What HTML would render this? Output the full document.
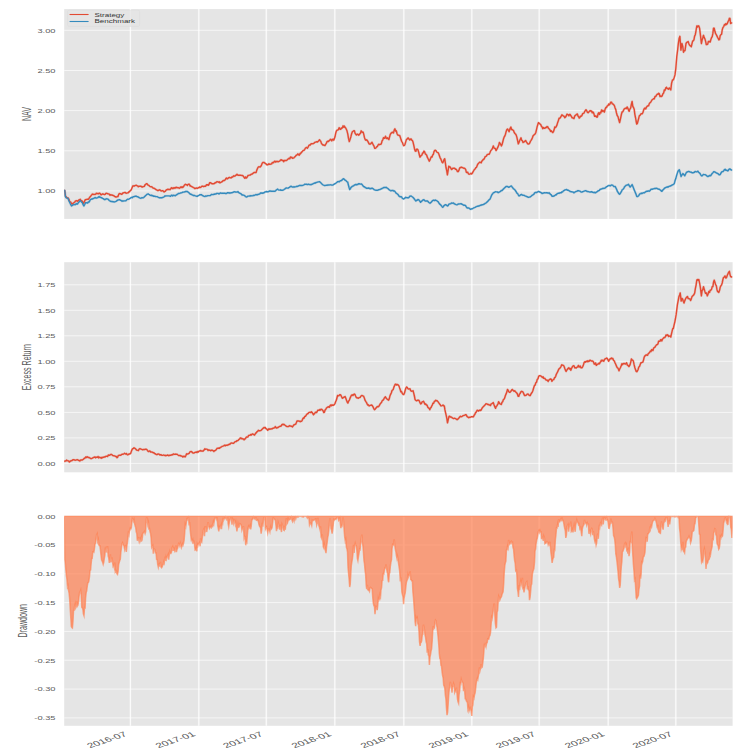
<!DOCTYPE html><html><head><meta charset="utf-8"><title>chart</title>
<style>html,body{margin:0;padding:0;background:#fff;overflow:hidden}svg{display:block}text{font-family:"Liberation Sans",sans-serif;fill:#5c5c5c}</style></head><body>
<svg width="741" height="756" viewBox="0 0 741 756">
<rect width="741" height="756" fill="#fff"/>
<g>
<rect x="-10" y="-10" width="761" height="776" fill="#fff"/>
<rect x="64.2" y="9.1" width="668.4" height="209.8" fill="#E5E5E5"/>
<line x1="130.4" y1="9.1" x2="130.4" y2="218.9" stroke="#fff" stroke-width="2.3" stroke-opacity="0.18"/>
<line x1="130.4" y1="9.1" x2="130.4" y2="218.9" stroke="#fff" stroke-width="1.15" stroke-opacity="0.82"/>
<line x1="198.8" y1="9.1" x2="198.8" y2="218.9" stroke="#fff" stroke-width="2.3" stroke-opacity="0.18"/>
<line x1="198.8" y1="9.1" x2="198.8" y2="218.9" stroke="#fff" stroke-width="1.15" stroke-opacity="0.82"/>
<line x1="266.3" y1="9.1" x2="266.3" y2="218.9" stroke="#fff" stroke-width="2.3" stroke-opacity="0.18"/>
<line x1="266.3" y1="9.1" x2="266.3" y2="218.9" stroke="#fff" stroke-width="1.15" stroke-opacity="0.82"/>
<line x1="334.8" y1="9.1" x2="334.8" y2="218.9" stroke="#fff" stroke-width="2.3" stroke-opacity="0.18"/>
<line x1="334.8" y1="9.1" x2="334.8" y2="218.9" stroke="#fff" stroke-width="1.15" stroke-opacity="0.82"/>
<line x1="403.8" y1="9.1" x2="403.8" y2="218.9" stroke="#fff" stroke-width="2.3" stroke-opacity="0.18"/>
<line x1="403.8" y1="9.1" x2="403.8" y2="218.9" stroke="#fff" stroke-width="1.15" stroke-opacity="0.82"/>
<line x1="471.8" y1="9.1" x2="471.8" y2="218.9" stroke="#fff" stroke-width="2.3" stroke-opacity="0.18"/>
<line x1="471.8" y1="9.1" x2="471.8" y2="218.9" stroke="#fff" stroke-width="1.15" stroke-opacity="0.82"/>
<line x1="539.2" y1="9.1" x2="539.2" y2="218.9" stroke="#fff" stroke-width="2.3" stroke-opacity="0.18"/>
<line x1="539.2" y1="9.1" x2="539.2" y2="218.9" stroke="#fff" stroke-width="1.15" stroke-opacity="0.82"/>
<line x1="608.2" y1="9.1" x2="608.2" y2="218.9" stroke="#fff" stroke-width="2.3" stroke-opacity="0.18"/>
<line x1="608.2" y1="9.1" x2="608.2" y2="218.9" stroke="#fff" stroke-width="1.15" stroke-opacity="0.82"/>
<line x1="675.8" y1="9.1" x2="675.8" y2="218.9" stroke="#fff" stroke-width="2.3" stroke-opacity="0.18"/>
<line x1="675.8" y1="9.1" x2="675.8" y2="218.9" stroke="#fff" stroke-width="1.15" stroke-opacity="0.82"/>
<line x1="64.2" y1="30.3" x2="732.6" y2="30.3" stroke="#fff" stroke-width="0.9" stroke-opacity="0.72"/>
<text transform="translate(55.5,32.6) scale(1.5,1)" text-anchor="end" font-size="6.2">3.00</text>
<line x1="64.2" y1="70.5" x2="732.6" y2="70.5" stroke="#fff" stroke-width="0.9" stroke-opacity="0.72"/>
<text transform="translate(55.5,72.8) scale(1.5,1)" text-anchor="end" font-size="6.2">2.50</text>
<line x1="64.2" y1="110.6" x2="732.6" y2="110.6" stroke="#fff" stroke-width="0.9" stroke-opacity="0.72"/>
<text transform="translate(55.5,112.9) scale(1.5,1)" text-anchor="end" font-size="6.2">2.00</text>
<line x1="64.2" y1="150.8" x2="732.6" y2="150.8" stroke="#fff" stroke-width="0.9" stroke-opacity="0.72"/>
<text transform="translate(55.5,153.1) scale(1.5,1)" text-anchor="end" font-size="6.2">1.50</text>
<line x1="64.2" y1="190.9" x2="732.6" y2="190.9" stroke="#fff" stroke-width="0.9" stroke-opacity="0.72"/>
<text transform="translate(55.5,193.2) scale(1.5,1)" text-anchor="end" font-size="6.2">1.00</text>
<text transform="translate(30.6,114.0) rotate(-90) scale(1,1.75)" text-anchor="middle" font-size="7.1">NAV</text>
<rect x="64.2" y="262.2" width="668.4" height="210.1" fill="#E5E5E5"/>
<line x1="130.4" y1="262.2" x2="130.4" y2="472.3" stroke="#fff" stroke-width="2.3" stroke-opacity="0.18"/>
<line x1="130.4" y1="262.2" x2="130.4" y2="472.3" stroke="#fff" stroke-width="1.15" stroke-opacity="0.82"/>
<line x1="198.8" y1="262.2" x2="198.8" y2="472.3" stroke="#fff" stroke-width="2.3" stroke-opacity="0.18"/>
<line x1="198.8" y1="262.2" x2="198.8" y2="472.3" stroke="#fff" stroke-width="1.15" stroke-opacity="0.82"/>
<line x1="266.3" y1="262.2" x2="266.3" y2="472.3" stroke="#fff" stroke-width="2.3" stroke-opacity="0.18"/>
<line x1="266.3" y1="262.2" x2="266.3" y2="472.3" stroke="#fff" stroke-width="1.15" stroke-opacity="0.82"/>
<line x1="334.8" y1="262.2" x2="334.8" y2="472.3" stroke="#fff" stroke-width="2.3" stroke-opacity="0.18"/>
<line x1="334.8" y1="262.2" x2="334.8" y2="472.3" stroke="#fff" stroke-width="1.15" stroke-opacity="0.82"/>
<line x1="403.8" y1="262.2" x2="403.8" y2="472.3" stroke="#fff" stroke-width="2.3" stroke-opacity="0.18"/>
<line x1="403.8" y1="262.2" x2="403.8" y2="472.3" stroke="#fff" stroke-width="1.15" stroke-opacity="0.82"/>
<line x1="471.8" y1="262.2" x2="471.8" y2="472.3" stroke="#fff" stroke-width="2.3" stroke-opacity="0.18"/>
<line x1="471.8" y1="262.2" x2="471.8" y2="472.3" stroke="#fff" stroke-width="1.15" stroke-opacity="0.82"/>
<line x1="539.2" y1="262.2" x2="539.2" y2="472.3" stroke="#fff" stroke-width="2.3" stroke-opacity="0.18"/>
<line x1="539.2" y1="262.2" x2="539.2" y2="472.3" stroke="#fff" stroke-width="1.15" stroke-opacity="0.82"/>
<line x1="608.2" y1="262.2" x2="608.2" y2="472.3" stroke="#fff" stroke-width="2.3" stroke-opacity="0.18"/>
<line x1="608.2" y1="262.2" x2="608.2" y2="472.3" stroke="#fff" stroke-width="1.15" stroke-opacity="0.82"/>
<line x1="675.8" y1="262.2" x2="675.8" y2="472.3" stroke="#fff" stroke-width="2.3" stroke-opacity="0.18"/>
<line x1="675.8" y1="262.2" x2="675.8" y2="472.3" stroke="#fff" stroke-width="1.15" stroke-opacity="0.82"/>
<line x1="64.2" y1="463.4" x2="732.6" y2="463.4" stroke="#fff" stroke-width="0.9" stroke-opacity="0.72"/>
<text transform="translate(55.5,465.7) scale(1.5,1)" text-anchor="end" font-size="6.2">0.00</text>
<line x1="64.2" y1="437.9" x2="732.6" y2="437.9" stroke="#fff" stroke-width="0.9" stroke-opacity="0.72"/>
<text transform="translate(55.5,440.2) scale(1.5,1)" text-anchor="end" font-size="6.2">0.25</text>
<line x1="64.2" y1="412.4" x2="732.6" y2="412.4" stroke="#fff" stroke-width="0.9" stroke-opacity="0.72"/>
<text transform="translate(55.5,414.7) scale(1.5,1)" text-anchor="end" font-size="6.2">0.50</text>
<line x1="64.2" y1="386.8" x2="732.6" y2="386.8" stroke="#fff" stroke-width="0.9" stroke-opacity="0.72"/>
<text transform="translate(55.5,389.1) scale(1.5,1)" text-anchor="end" font-size="6.2">0.75</text>
<line x1="64.2" y1="361.3" x2="732.6" y2="361.3" stroke="#fff" stroke-width="0.9" stroke-opacity="0.72"/>
<text transform="translate(55.5,363.6) scale(1.5,1)" text-anchor="end" font-size="6.2">1.00</text>
<line x1="64.2" y1="335.8" x2="732.6" y2="335.8" stroke="#fff" stroke-width="0.9" stroke-opacity="0.72"/>
<text transform="translate(55.5,338.1) scale(1.5,1)" text-anchor="end" font-size="6.2">1.25</text>
<line x1="64.2" y1="310.3" x2="732.6" y2="310.3" stroke="#fff" stroke-width="0.9" stroke-opacity="0.72"/>
<text transform="translate(55.5,312.6) scale(1.5,1)" text-anchor="end" font-size="6.2">1.50</text>
<line x1="64.2" y1="284.8" x2="732.6" y2="284.8" stroke="#fff" stroke-width="0.9" stroke-opacity="0.72"/>
<text transform="translate(55.5,287.1) scale(1.5,1)" text-anchor="end" font-size="6.2">1.75</text>
<text transform="translate(31.0,367.2) rotate(-90) scale(1,1.75)" text-anchor="middle" font-size="7.1">Excess Return</text>
<rect x="64.2" y="515.6" width="668.4" height="210.2" fill="#E5E5E5"/>
<line x1="130.4" y1="515.6" x2="130.4" y2="725.8" stroke="#fff" stroke-width="2.3" stroke-opacity="0.18"/>
<line x1="130.4" y1="515.6" x2="130.4" y2="725.8" stroke="#fff" stroke-width="1.15" stroke-opacity="0.82"/>
<line x1="198.8" y1="515.6" x2="198.8" y2="725.8" stroke="#fff" stroke-width="2.3" stroke-opacity="0.18"/>
<line x1="198.8" y1="515.6" x2="198.8" y2="725.8" stroke="#fff" stroke-width="1.15" stroke-opacity="0.82"/>
<line x1="266.3" y1="515.6" x2="266.3" y2="725.8" stroke="#fff" stroke-width="2.3" stroke-opacity="0.18"/>
<line x1="266.3" y1="515.6" x2="266.3" y2="725.8" stroke="#fff" stroke-width="1.15" stroke-opacity="0.82"/>
<line x1="334.8" y1="515.6" x2="334.8" y2="725.8" stroke="#fff" stroke-width="2.3" stroke-opacity="0.18"/>
<line x1="334.8" y1="515.6" x2="334.8" y2="725.8" stroke="#fff" stroke-width="1.15" stroke-opacity="0.82"/>
<line x1="403.8" y1="515.6" x2="403.8" y2="725.8" stroke="#fff" stroke-width="2.3" stroke-opacity="0.18"/>
<line x1="403.8" y1="515.6" x2="403.8" y2="725.8" stroke="#fff" stroke-width="1.15" stroke-opacity="0.82"/>
<line x1="471.8" y1="515.6" x2="471.8" y2="725.8" stroke="#fff" stroke-width="2.3" stroke-opacity="0.18"/>
<line x1="471.8" y1="515.6" x2="471.8" y2="725.8" stroke="#fff" stroke-width="1.15" stroke-opacity="0.82"/>
<line x1="539.2" y1="515.6" x2="539.2" y2="725.8" stroke="#fff" stroke-width="2.3" stroke-opacity="0.18"/>
<line x1="539.2" y1="515.6" x2="539.2" y2="725.8" stroke="#fff" stroke-width="1.15" stroke-opacity="0.82"/>
<line x1="608.2" y1="515.6" x2="608.2" y2="725.8" stroke="#fff" stroke-width="2.3" stroke-opacity="0.18"/>
<line x1="608.2" y1="515.6" x2="608.2" y2="725.8" stroke="#fff" stroke-width="1.15" stroke-opacity="0.82"/>
<line x1="675.8" y1="515.6" x2="675.8" y2="725.8" stroke="#fff" stroke-width="2.3" stroke-opacity="0.18"/>
<line x1="675.8" y1="515.6" x2="675.8" y2="725.8" stroke="#fff" stroke-width="1.15" stroke-opacity="0.82"/>
<line x1="64.2" y1="516.2" x2="732.6" y2="516.2" stroke="#fff" stroke-width="0.9" stroke-opacity="0.72"/>
<text transform="translate(55.5,518.5) scale(1.5,1)" text-anchor="end" font-size="6.2">0.00</text>
<line x1="64.2" y1="545.0" x2="732.6" y2="545.0" stroke="#fff" stroke-width="0.9" stroke-opacity="0.72"/>
<text transform="translate(55.5,547.3) scale(1.5,1)" text-anchor="end" font-size="6.2">-0.05</text>
<line x1="64.2" y1="573.8" x2="732.6" y2="573.8" stroke="#fff" stroke-width="0.9" stroke-opacity="0.72"/>
<text transform="translate(55.5,576.1) scale(1.5,1)" text-anchor="end" font-size="6.2">-0.10</text>
<line x1="64.2" y1="602.6" x2="732.6" y2="602.6" stroke="#fff" stroke-width="0.9" stroke-opacity="0.72"/>
<text transform="translate(55.5,604.9) scale(1.5,1)" text-anchor="end" font-size="6.2">-0.15</text>
<line x1="64.2" y1="631.4" x2="732.6" y2="631.4" stroke="#fff" stroke-width="0.9" stroke-opacity="0.72"/>
<text transform="translate(55.5,633.7) scale(1.5,1)" text-anchor="end" font-size="6.2">-0.20</text>
<line x1="64.2" y1="660.2" x2="732.6" y2="660.2" stroke="#fff" stroke-width="0.9" stroke-opacity="0.72"/>
<text transform="translate(55.5,662.5) scale(1.5,1)" text-anchor="end" font-size="6.2">-0.25</text>
<line x1="64.2" y1="689.1" x2="732.6" y2="689.1" stroke="#fff" stroke-width="0.9" stroke-opacity="0.72"/>
<text transform="translate(55.5,691.4) scale(1.5,1)" text-anchor="end" font-size="6.2">-0.30</text>
<line x1="64.2" y1="717.9" x2="732.6" y2="717.9" stroke="#fff" stroke-width="0.9" stroke-opacity="0.72"/>
<text transform="translate(55.5,720.2) scale(1.5,1)" text-anchor="end" font-size="6.2">-0.35</text>
<text transform="translate(27.3,620.7) rotate(-90) scale(1,1.75)" text-anchor="middle" font-size="7.1">Drawdown</text>
<clipPath id="c0"><rect x="64.2" y="9.1" width="668.4" height="209.8"/></clipPath>
<clipPath id="c1"><rect x="64.2" y="262.2" width="668.4" height="210.1"/></clipPath>
<clipPath id="c2"><rect x="64.2" y="515.6" width="668.4" height="210.2"/></clipPath>
<g clip-path="url(#c0)" fill="none" stroke-linejoin="round" stroke-linecap="round">
<polyline points="64.3,190.5 64.7,190.5 65.4,195.9 66.1,196.8 66.8,197.7 67.4,198.0 68.1,197.9 68.8,199.1 69.4,200.8 70.1,202.0 70.8,202.2 71.4,203.1 72.1,204.0 72.8,203.8 73.4,202.9 74.1,202.5 74.8,202.0 75.5,201.0 76.2,200.9 76.8,200.6 77.5,201.3 78.2,200.7 78.8,200.0 79.5,199.9 80.2,199.3 80.9,200.3 81.6,200.6 82.3,201.3 82.9,202.4 83.6,203.3 84.3,201.9 85.0,199.9 85.7,199.8 86.3,199.4 87.0,199.4 87.6,199.2 88.3,199.3 89.0,198.3 89.7,197.3 90.4,196.6 91.1,195.6 91.7,194.9 92.3,194.1 93.0,194.5 93.7,194.3 94.4,194.4 95.0,194.5 95.7,194.1 96.4,193.2 97.1,193.7 97.8,193.5 98.4,193.8 99.1,193.2 99.8,193.2 100.4,194.0 101.1,194.9 101.8,194.5 102.5,193.9 103.2,194.0 103.8,194.4 104.5,194.5 105.2,194.3 105.8,193.4 106.5,193.3 107.2,193.5 107.9,193.9 108.6,193.9 109.2,194.2 109.9,195.2 110.6,194.7 111.3,195.1 112.0,195.0 112.6,195.3 113.3,195.5 114.0,195.9 114.7,196.5 115.3,196.6 116.0,197.1 116.7,196.9 117.3,196.5 118.0,196.6 118.7,194.4 119.4,193.5 120.1,193.9 120.7,193.7 121.4,194.3 122.1,194.1 122.7,193.0 123.4,193.0 124.1,192.6 124.8,192.5 125.4,192.5 126.1,193.2 126.8,193.1 127.5,192.9 128.1,192.9 128.8,191.8 129.5,191.8 130.2,190.7 130.8,190.3 131.5,189.1 132.2,187.4 132.8,186.0 133.5,185.8 134.2,186.1 134.9,185.7 135.6,185.4 136.3,185.3 136.9,185.7 137.6,185.9 138.3,186.7 139.0,186.3 139.6,186.4 140.3,186.2 141.0,186.1 141.6,186.8 142.3,187.1 143.0,186.6 143.7,186.5 144.3,186.4 145.0,184.9 145.7,184.4 146.4,183.6 147.0,183.6 147.7,184.8 148.4,185.2 149.1,185.6 149.7,186.2 150.4,186.7 151.1,186.9 151.8,186.7 152.4,187.4 153.1,188.1 153.8,188.2 154.5,188.5 155.2,188.9 155.8,189.5 156.5,189.8 157.2,190.2 157.7,190.6 158.4,190.5 159.0,190.0 159.7,189.8 160.4,190.4 161.0,190.9 161.7,191.0 162.3,190.6 162.9,190.6 163.5,191.3 164.1,191.9 164.7,191.4 165.3,191.3 165.9,190.4 166.5,189.7 167.1,189.7 167.7,189.3 168.3,189.3 168.9,189.5 169.5,189.4 170.1,189.7 170.7,188.9 171.3,187.9 171.9,187.7 172.5,188.6 173.1,188.6 173.7,187.8 174.3,187.7 174.9,188.3 175.5,187.5 176.1,187.7 176.7,187.2 177.3,187.7 177.9,187.9 178.6,187.7 179.3,188.3 180.0,187.7 180.6,187.0 181.3,187.6 182.0,186.7 182.7,187.5 183.4,186.8 184.1,185.6 184.7,184.9 185.4,184.3 186.1,184.6 186.7,184.7 187.4,185.4 188.1,184.4 188.7,184.3 189.4,184.3 190.1,186.1 190.8,185.9 191.4,186.5 192.1,186.7 192.8,187.2 193.5,187.6 194.2,187.8 194.8,188.6 195.5,188.3 196.2,188.0 196.8,188.2 197.5,188.3 198.2,187.7 198.8,187.9 199.5,187.0 200.2,187.5 200.9,187.1 201.6,186.5 202.2,186.2 202.9,186.2 203.6,186.6 204.2,186.4 204.8,186.1 205.4,186.3 206.0,185.7 206.6,184.7 207.2,185.0 207.8,184.7 208.4,185.2 209.0,184.5 209.6,182.8 210.2,182.8 210.8,182.8 211.4,183.5 212.0,183.7 212.6,183.7 213.2,183.9 213.8,183.6 214.4,183.5 215.1,182.6 215.8,182.7 216.4,182.0 217.1,181.6 217.8,181.8 218.5,182.3 219.2,181.7 219.8,182.8 220.5,182.5 221.2,182.2 221.8,181.9 222.5,181.2 223.2,180.5 223.9,180.7 224.5,180.4 225.2,179.8 225.8,178.7 226.4,178.1 227.0,178.7 227.6,178.7 228.2,178.1 228.8,177.6 229.4,177.4 230.0,177.7 230.6,177.8 231.3,177.9 231.9,177.0 232.6,177.1 233.3,176.3 233.9,175.7 234.6,176.2 235.2,175.9 235.8,175.4 236.4,174.9 237.0,174.3 237.6,174.9 238.2,175.3 238.8,175.4 239.4,175.1 240.0,175.4 240.7,175.3 241.4,175.4 242.0,175.6 242.7,175.5 243.4,176.4 244.1,177.4 244.8,178.2 245.4,177.0 246.1,178.1 246.8,177.6 247.5,176.4 248.1,175.5 248.8,175.3 249.5,175.1 250.2,175.1 250.8,174.6 251.5,174.1 252.1,174.1 252.8,173.5 253.5,172.9 254.1,172.5 254.8,172.4 255.4,172.6 256.1,172.5 256.8,170.1 257.4,168.8 258.1,167.2 258.8,166.7 259.5,166.9 260.1,167.1 260.8,166.3 261.5,165.1 262.1,163.4 262.8,162.5 263.5,162.5 264.2,162.5 264.9,163.1 265.5,163.7 266.2,164.0 266.9,164.9 267.6,164.9 268.2,164.4 268.9,163.7 269.6,164.4 270.2,164.2 270.9,164.1 271.6,163.9 272.3,162.5 272.9,162.9 273.6,162.6 274.3,161.4 275.0,161.2 275.6,162.1 276.3,161.5 277.0,161.3 277.6,161.5 278.3,161.8 279.0,161.3 279.7,161.1 280.3,160.3 281.0,159.7 281.7,160.1 282.4,160.6 283.1,160.4 283.7,161.7 284.4,160.4 285.1,160.5 285.8,160.4 286.4,160.5 287.1,160.0 287.8,159.1 288.4,158.9 289.1,158.2 289.8,158.8 290.5,157.0 291.1,157.6 291.8,157.3 292.5,158.2 293.2,158.1 293.9,157.9 294.6,156.9 295.2,156.6 295.9,155.6 296.6,155.1 297.3,154.7 297.9,153.8 298.6,154.9 299.3,155.2 300.0,153.4 300.6,153.7 301.3,152.4 302.0,151.9 302.6,151.1 303.3,150.4 304.0,150.3 304.6,149.7 305.3,148.3 306.0,147.7 306.7,147.4 307.4,148.2 308.0,147.3 308.7,145.8 309.4,144.9 310.1,145.2 310.7,144.3 311.4,143.6 312.1,143.8 312.7,143.6 313.4,143.6 314.1,143.1 314.8,142.4 315.4,142.1 316.1,142.0 316.8,141.7 317.5,142.0 318.2,141.3 318.8,140.6 319.5,139.8 320.2,140.7 320.8,141.4 321.5,143.6 322.2,144.3 322.9,145.1 323.5,144.9 324.2,145.4 324.9,145.6 325.6,144.4 326.3,143.4 326.9,141.7 327.6,141.2 328.3,141.6 329.0,140.7 329.6,140.5 330.3,139.3 331.0,139.5 331.7,140.8 332.4,139.6 333.0,139.2 333.7,140.2 334.4,138.6 335.0,136.8 335.7,133.2 336.3,131.2 337.0,130.1 337.7,130.1 338.4,129.5 339.1,127.7 339.9,129.1 340.7,129.4 341.3,127.9 341.9,128.3 342.5,127.6 343.1,125.8 343.7,127.2 344.4,126.0 345.0,127.4 345.7,128.0 346.3,129.3 347.0,130.8 347.8,134.2 348.5,138.4 349.3,141.6 350.1,139.3 350.9,136.7 351.7,133.5 352.4,131.7 353.0,131.3 353.7,130.8 354.4,130.8 355.1,133.4 355.8,134.3 356.4,135.0 357.1,134.1 357.8,134.2 358.5,135.2 359.2,134.8 359.8,133.9 360.5,133.3 361.2,130.8 361.9,131.8 362.5,132.4 363.2,132.2 363.9,134.9 364.5,137.7 365.2,139.6 365.9,140.2 366.6,139.7 367.2,140.5 367.9,141.4 368.6,143.0 369.3,144.0 370.0,144.2 370.6,143.9 371.3,143.0 372.0,142.3 372.7,143.7 373.4,145.2 374.0,146.1 374.7,148.4 375.4,148.3 376.1,147.7 376.7,146.9 377.4,146.4 378.1,145.0 378.8,144.3 379.5,144.7 380.1,144.4 380.8,144.3 381.5,143.1 382.1,140.8 382.8,139.8 383.5,137.6 384.2,138.3 384.8,138.2 385.5,136.2 386.2,138.0 386.9,138.6 387.5,137.8 388.2,138.7 388.9,139.6 389.6,136.8 390.2,134.6 390.9,133.4 391.5,132.9 392.2,132.2 392.9,132.6 393.5,132.9 394.2,130.1 394.9,128.8 395.6,131.0 396.3,130.8 397.0,133.5 397.7,135.0 398.4,135.1 399.0,135.5 399.7,135.5 400.4,137.5 401.0,139.6 401.7,141.6 402.4,142.4 403.0,144.3 403.7,145.7 404.4,145.3 405.0,144.3 405.7,141.9 406.4,139.6 407.1,139.1 407.7,138.2 408.4,138.0 409.1,139.3 409.8,140.0 410.4,139.2 411.1,138.9 411.8,140.3 412.4,140.4 413.1,142.3 413.8,145.3 414.5,148.7 415.2,151.1 415.9,151.2 416.5,149.1 417.2,149.1 417.9,149.7 418.6,151.9 419.2,154.2 419.9,157.1 420.6,156.5 421.2,155.3 421.9,155.1 422.6,153.0 423.2,153.0 423.9,151.1 424.6,151.7 425.3,153.9 426.0,154.4 426.7,155.2 427.3,157.2 428.0,158.5 428.6,159.7 429.3,161.2 430.0,159.9 430.6,158.3 431.3,156.8 432.0,157.1 432.7,155.0 433.4,154.2 434.0,151.6 434.7,150.4 435.4,150.3 436.0,150.7 436.7,152.0 437.4,152.4 438.1,152.7 438.8,154.0 439.4,155.7 440.1,157.8 440.8,158.9 441.4,160.4 442.1,162.2 442.7,162.8 443.4,161.5 444.0,159.7 444.7,158.7 445.4,163.1 446.0,167.5 446.7,170.5 447.4,174.9 448.1,170.7 448.8,166.2 449.5,166.8 450.1,167.0 450.8,168.1 451.5,169.5 452.2,169.1 452.9,168.1 453.5,168.4 454.2,168.2 454.9,168.5 455.5,169.4 456.2,169.3 456.8,170.2 457.5,171.6 458.2,171.6 458.9,170.4 459.5,168.5 460.2,167.5 460.9,167.5 461.6,167.2 462.3,167.6 462.9,167.7 463.6,168.2 464.3,168.2 465.0,168.6 465.7,169.7 466.3,172.1 467.0,172.6 467.7,172.2 468.4,173.7 469.0,174.2 469.7,174.1 470.4,173.9 471.0,173.2 471.7,173.9 472.4,173.1 473.0,171.8 473.7,170.7 474.4,169.5 475.1,169.0 475.8,167.7 476.4,167.4 477.1,165.7 477.8,164.1 478.5,163.4 479.2,162.6 479.8,162.1 480.5,162.4 481.2,162.8 481.9,160.9 482.5,160.6 483.2,159.5 483.8,159.4 484.5,158.1 485.2,156.6 485.9,156.3 486.5,155.9 487.2,154.7 487.9,154.4 488.5,154.3 489.2,154.2 489.9,152.7 490.6,150.9 491.3,150.1 491.9,149.4 492.6,148.1 493.3,145.9 494.0,147.8 494.6,148.4 495.3,148.5 496.0,150.6 496.7,149.5 497.4,148.2 498.0,146.9 498.7,145.3 499.4,142.5 500.1,143.4 500.7,144.5 501.4,145.9 502.1,144.4 502.8,141.7 503.4,139.3 504.1,137.1 504.8,136.0 505.5,134.2 506.1,131.7 506.8,129.7 507.5,129.0 508.3,130.1 509.1,131.7 510.0,128.7 510.9,127.0 511.5,129.5 512.2,129.4 512.9,130.2 513.5,130.4 514.2,132.4 514.9,133.5 515.5,134.0 516.2,135.1 516.9,137.4 517.6,140.6 518.3,143.9 519.0,142.5 519.6,140.7 520.3,139.2 521.0,137.8 521.7,140.4 522.3,140.6 523.0,142.5 523.7,142.1 524.4,141.7 525.0,141.0 525.7,140.5 526.4,141.8 527.1,142.9 527.7,143.9 528.4,144.0 529.1,143.9 529.8,142.9 530.5,141.1 531.1,140.3 531.8,139.2 532.5,137.5 533.1,135.7 533.8,135.1 534.5,134.4 535.1,134.0 535.8,132.5 536.5,129.6 537.1,126.9 537.8,124.6 538.5,122.6 539.2,123.2 540.0,124.1 540.7,124.5 541.4,126.2 542.1,126.9 542.8,128.7 543.5,127.6 544.2,128.3 544.9,128.4 545.6,127.4 546.4,127.5 547.1,126.5 547.8,126.9 548.5,128.5 549.2,128.9 549.9,129.7 550.6,131.4 551.3,130.8 552.0,131.8 552.7,132.6 553.4,131.8 554.1,129.8 554.8,126.9 555.5,127.6 556.2,126.6 557.0,124.9 557.7,122.4 558.4,120.5 559.1,118.3 559.8,118.2 560.5,117.4 561.2,116.2 561.9,114.8 562.6,115.3 563.3,116.0 564.1,116.2 564.8,117.7 565.5,117.0 566.2,116.0 566.9,114.2 567.6,114.5 568.3,114.8 568.9,115.8 569.5,114.4 570.1,114.4 570.8,115.8 571.4,116.2 572.0,117.8 572.6,117.7 573.3,118.3 574.0,118.5 574.7,116.0 575.4,115.4 576.1,114.9 576.8,114.1 577.4,113.9 578.0,116.1 578.6,116.7 579.3,118.1 579.9,117.4 580.5,116.1 581.1,116.3 581.8,115.7 582.5,113.9 583.2,113.4 583.9,113.2 584.6,111.7 585.3,110.6 586.0,109.7 586.7,110.7 587.4,112.3 588.1,112.7 588.8,112.0 589.5,111.1 590.3,110.6 591.0,111.3 591.6,111.0 592.2,112.8 592.8,112.0 593.4,112.4 594.0,114.1 594.6,116.3 595.2,116.3 595.9,115.8 596.6,117.1 597.4,117.0 598.1,113.6 598.8,112.7 599.5,114.4 600.2,112.5 600.9,112.7 601.6,109.9 602.3,111.4 603.0,110.5 603.7,111.2 604.4,112.1 605.1,109.2 605.8,107.5 606.5,107.6 607.3,105.8 608.0,105.6 608.7,104.0 609.4,104.8 610.1,103.6 610.8,102.1 611.5,102.1 612.2,103.8 613.0,104.0 613.7,104.7 614.4,105.6 615.1,108.0 615.8,109.6 616.5,113.0 617.2,115.5 618.0,116.6 618.8,119.8 619.6,122.6 620.2,120.1 620.9,116.8 621.5,114.0 622.1,112.0 622.8,111.8 623.5,110.4 624.3,108.8 625.0,108.5 625.7,108.2 626.4,108.6 627.1,107.0 627.8,108.1 628.5,110.1 629.2,111.3 629.9,109.1 630.7,107.8 631.4,104.2 632.1,101.4 632.8,106.4 633.5,107.5 634.2,109.2 634.8,114.1 635.5,117.5 636.1,121.0 636.7,124.0 637.3,123.6 638.0,121.0 638.6,118.7 639.3,115.8 640.0,115.4 640.7,114.3 641.4,113.6 642.1,113.8 642.9,112.6 643.6,110.1 644.3,108.6 645.0,108.1 645.7,108.9 646.4,107.2 647.1,106.4 647.9,105.7 648.6,105.8 649.3,103.6 650.0,102.7 650.7,102.2 651.4,101.0 652.2,99.7 652.9,99.2 653.6,98.6 654.3,98.8 655.0,96.4 655.8,96.5 656.5,95.1 657.2,94.3 657.9,94.2 658.6,93.3 659.3,93.6 660.0,96.6 660.8,96.0 661.5,96.5 662.2,95.7 662.9,93.8 663.6,93.1 664.3,90.0 665.0,90.4 665.8,87.9 666.5,87.3 667.2,88.6 667.9,88.7 668.6,89.3 669.3,87.9 670.0,88.7 670.8,90.0 671.6,83.1 672.5,80.0 673.4,79.9 674.3,77.2 675.0,74.9 675.8,68.6 676.8,56.3 677.5,51.1 678.3,44.0 679.1,38.6 679.9,36.3 680.9,50.1 681.9,43.5 682.7,46.2 683.5,52.2 684.2,50.7 685.0,50.6 686.0,43.5 686.8,42.3 687.6,41.9 688.2,41.6 688.8,43.4 689.4,44.9 690.0,45.6 690.6,46.0 691.3,46.7 692.0,43.6 692.7,40.9 693.4,40.8 694.0,39.6 694.6,36.1 695.3,34.7 696.0,30.8 696.8,26.0 697.5,26.9 698.1,25.8 698.8,26.0 699.6,28.3 700.4,34.7 701.4,43.5 702.1,40.1 702.8,37.8 703.5,35.3 704.2,37.6 704.8,38.6 705.5,40.9 706.3,44.5 707.1,44.5 707.7,44.1 708.4,41.4 709.0,41.9 709.6,41.4 710.2,42.0 710.9,39.4 711.6,37.4 712.2,36.8 712.9,33.2 713.5,28.2 714.2,28.1 714.9,31.3 715.6,33.7 716.3,34.7 716.9,35.9 717.5,37.3 718.2,38.3 718.8,39.9 719.5,39.7 720.2,35.7 720.9,34.7 721.6,34.2 722.2,30.0 722.9,27.6 723.7,26.6 724.5,24.5 725.2,25.1 725.8,23.6 726.5,24.5 727.3,23.5 728.1,21.4 728.8,20.4 729.4,18.3 730.0,18.5 730.6,23.5 731.7,22.9" stroke="#E24A33" stroke-width="2.4" stroke-opacity="0.2"/>
<polyline points="64.3,190.5 64.7,190.5 65.4,196.6 66.1,197.6 66.8,197.8 67.4,198.2 68.1,198.6 68.8,200.5 69.4,201.8 70.1,203.3 70.8,204.7 71.5,206.0 72.2,205.5 72.8,205.1 73.5,204.7 74.2,204.5 74.8,204.7 75.5,204.6 76.2,203.6 76.8,204.1 77.5,204.0 78.2,202.9 78.8,202.2 79.5,201.4 80.2,200.6 80.9,201.2 81.6,202.2 82.3,202.6 83.1,204.7 83.9,206.0 84.8,204.3 85.6,202.6 86.3,202.8 87.0,202.8 87.6,203.0 88.3,202.0 89.0,202.0 89.7,201.0 90.3,199.8 91.0,199.3 91.7,199.0 92.4,199.0 93.0,198.4 93.7,198.5 94.4,198.0 95.1,197.5 95.8,198.0 96.4,198.1 97.1,197.9 97.8,197.7 98.4,197.1 99.1,196.6 99.8,197.3 100.5,197.2 101.2,197.8 101.8,197.8 102.5,198.4 103.2,198.6 103.9,199.2 104.5,199.6 105.2,199.5 105.9,199.0 106.5,198.8 107.2,198.9 107.9,199.1 108.6,199.7 109.2,200.5 109.9,200.9 110.6,201.3 111.3,201.5 111.9,201.4 112.6,201.7 113.3,201.6 114.0,202.0 114.6,201.9 115.3,201.6 116.0,201.3 116.7,200.9 117.3,200.3 118.0,200.0 118.7,199.9 119.4,199.6 120.1,200.0 120.7,200.3 121.4,200.7 122.1,201.3 122.8,200.8 123.4,201.0 124.1,200.9 124.8,200.9 125.4,200.8 126.1,200.6 126.8,199.8 127.5,199.3 128.1,199.4 128.8,199.1 129.5,198.7 130.2,198.3 130.9,197.7 131.5,197.5 132.2,197.7 132.9,196.9 133.5,196.7 134.2,196.6 134.9,196.3 135.6,196.2 136.2,196.2 136.9,196.6 137.6,196.6 138.3,197.2 139.0,197.5 139.6,197.9 140.3,198.1 141.0,198.3 141.7,197.8 142.3,197.7 143.0,197.9 143.7,197.5 144.4,196.8 145.0,196.2 145.7,195.5 146.3,195.0 147.0,194.3 147.6,194.1 148.2,193.9 148.8,194.3 149.4,194.6 150.0,195.1 150.6,195.3 151.2,195.5 151.8,195.2 152.5,195.9 153.1,195.8 153.8,196.4 154.5,196.3 155.1,196.3 155.8,196.6 156.5,196.6 157.1,196.6 157.8,197.0 158.4,197.4 159.1,197.7 159.7,197.8 160.4,197.7 161.0,197.8 161.7,197.8 162.4,197.5 163.1,197.4 163.8,197.0 164.4,196.4 165.1,195.9 165.8,196.0 166.5,195.9 167.2,195.9 167.8,195.9 168.5,195.9 169.2,195.9 169.8,196.1 170.5,196.3 171.2,195.3 171.8,195.1 172.4,195.9 173.0,195.4 173.6,195.3 174.2,195.5 174.8,195.4 175.4,195.7 176.0,195.2 176.6,194.7 177.2,194.5 177.8,194.0 178.4,193.5 179.0,193.5 179.6,193.4 180.2,193.2 180.8,192.9 181.4,192.8 182.0,192.6 182.7,192.2 183.3,192.1 184.0,192.0 184.7,191.8 185.3,191.8 186.0,191.3 186.7,191.5 187.4,191.5 188.1,192.1 188.7,192.5 189.4,193.3 190.1,194.0 190.8,194.3 191.5,194.4 192.1,194.9 192.8,195.2 193.5,195.6 194.2,195.4 194.8,195.7 195.5,195.9 196.2,196.1 196.9,196.3 197.5,196.2 198.2,195.6 198.9,195.3 199.6,194.9 200.2,194.6 200.9,194.7 201.6,194.8 202.3,195.5 202.9,195.7 203.6,196.1 204.3,196.4 205.0,196.5 205.6,196.0 206.3,196.2 207.0,196.0 207.7,195.6 208.3,195.6 209.0,195.6 209.6,195.6 210.2,195.5 210.8,195.2 211.4,194.4 212.0,194.5 212.6,194.6 213.2,194.5 213.8,194.3 214.4,194.3 215.0,193.9 215.6,194.0 216.2,193.9 216.8,193.4 217.4,193.4 218.0,193.4 218.6,193.8 219.2,193.9 219.8,193.3 220.5,193.0 221.2,193.2 221.8,193.4 222.5,193.3 223.2,193.2 223.8,193.4 224.5,193.3 225.2,193.3 225.8,193.5 226.4,193.5 227.0,193.1 227.6,192.7 228.2,192.6 228.8,193.0 229.4,192.8 230.0,193.2 230.6,192.9 231.3,192.7 231.9,192.8 232.6,192.4 233.3,192.3 234.0,191.7 234.6,191.8 235.3,192.0 236.0,191.9 236.6,192.1 237.3,192.1 238.0,191.6 238.7,192.6 239.3,192.9 240.0,193.3 240.7,193.7 241.4,194.1 242.1,195.1 242.7,194.9 243.4,195.1 244.1,195.3 244.8,195.8 245.4,196.5 246.1,196.9 246.8,197.0 247.5,196.3 248.1,196.1 248.8,196.1 249.5,196.0 250.1,196.1 250.8,195.6 251.5,195.8 252.1,195.9 252.8,195.7 253.4,195.3 254.1,195.5 254.7,195.1 255.4,194.9 256.0,194.5 256.6,194.9 257.2,194.8 257.8,194.5 258.4,194.3 259.0,194.1 259.6,194.0 260.2,193.4 260.8,192.9 261.5,193.0 262.1,193.3 262.8,193.0 263.5,193.0 264.2,192.7 264.9,192.0 265.5,191.9 266.2,191.5 266.8,191.8 267.4,191.8 268.0,191.8 268.6,191.4 269.2,191.4 269.8,190.9 270.4,191.0 271.0,191.4 271.6,191.1 272.3,191.2 273.0,191.4 273.6,191.2 274.3,191.3 275.0,191.2 275.6,190.8 276.3,190.0 277.0,189.5 277.7,189.1 278.3,189.9 279.0,190.1 279.7,190.1 280.4,189.8 281.0,190.4 281.7,190.1 282.4,190.2 283.0,190.1 283.7,189.8 284.4,189.2 285.1,188.8 285.7,188.1 286.4,187.9 287.0,188.1 287.6,188.1 288.2,188.1 288.8,187.6 289.4,187.4 290.0,186.8 290.6,186.4 291.2,186.3 291.8,186.8 292.5,187.0 293.1,187.2 293.8,186.7 294.5,187.0 295.2,186.8 295.9,186.6 296.5,186.3 297.2,186.5 297.8,186.1 298.4,186.0 299.0,185.7 299.6,185.4 300.2,185.5 300.8,185.5 301.4,185.5 302.0,185.6 302.6,185.4 303.3,185.1 304.0,184.8 304.6,184.3 305.3,184.4 306.0,184.2 306.6,184.3 307.3,184.6 308.0,184.3 308.7,184.3 309.4,184.6 310.0,184.5 310.7,184.7 311.4,184.6 312.0,184.2 312.7,184.1 313.4,183.4 314.1,183.4 314.8,182.9 315.4,183.1 316.1,182.5 316.8,182.3 317.5,182.1 318.2,181.9 318.8,181.9 319.5,181.6 320.2,182.2 320.9,182.8 321.5,183.6 322.2,184.3 322.9,184.8 323.6,185.1 324.2,185.3 324.9,185.6 325.6,185.4 326.3,185.3 327.0,185.4 327.6,185.0 328.3,184.9 329.0,185.1 329.6,184.9 330.3,184.9 331.0,184.8 331.7,185.1 332.4,185.1 333.0,185.0 333.7,184.3 334.4,184.1 335.0,183.6 335.7,183.3 336.4,182.7 337.0,182.3 337.7,181.6 338.4,181.5 339.1,181.9 339.7,181.3 340.4,180.7 341.1,180.7 341.9,180.2 342.6,179.3 343.4,178.7 344.0,179.1 344.6,179.6 345.2,180.3 345.8,180.4 346.4,181.2 347.1,181.8 347.7,182.1 348.4,185.0 349.0,187.3 349.7,189.5 350.4,188.8 351.0,187.4 351.7,186.9 352.4,186.2 353.1,186.0 353.8,185.7 354.4,185.0 355.1,184.9 355.8,184.4 356.5,184.8 357.2,184.4 357.8,184.5 358.5,183.7 359.2,183.7 359.9,184.1 360.5,184.1 361.2,183.9 361.9,184.4 362.5,185.2 363.2,186.1 363.9,186.7 364.5,186.7 365.2,187.5 365.9,187.7 366.6,188.4 367.2,188.3 367.9,188.3 368.6,188.0 369.3,188.2 370.0,188.8 370.6,188.5 371.3,188.5 372.0,188.2 372.7,188.5 373.4,188.9 374.0,189.6 374.7,189.8 375.4,190.2 376.1,190.4 376.7,190.3 377.4,190.2 378.1,190.1 378.8,189.7 379.4,189.6 380.1,189.5 380.8,189.0 381.4,188.9 382.1,188.4 382.8,188.2 383.4,187.7 384.1,187.5 384.8,187.5 385.5,187.5 386.1,187.3 386.8,187.9 387.5,188.2 388.2,188.8 388.9,189.6 389.5,189.9 390.2,190.5 390.9,190.9 391.6,190.5 392.3,190.5 392.9,190.4 393.6,191.0 394.3,190.9 395.0,191.5 395.6,192.5 396.3,193.3 397.0,193.6 397.7,194.4 398.3,194.8 399.0,196.1 399.6,196.4 400.3,196.9 401.0,196.6 401.7,197.0 402.3,198.2 403.0,198.7 403.7,199.0 404.4,198.5 405.1,197.9 405.8,197.3 406.4,197.6 407.1,197.7 407.8,197.6 408.5,197.8 409.1,197.2 409.8,196.3 410.4,196.2 411.1,196.0 411.8,196.5 412.5,196.9 413.1,197.6 413.8,198.3 414.5,199.2 415.2,200.2 415.9,201.0 416.6,200.3 417.2,200.2 417.9,199.5 418.6,199.6 419.3,200.5 419.9,201.2 420.6,202.3 421.3,201.6 421.9,201.0 422.6,200.4 423.2,199.9 423.9,199.6 424.6,200.5 425.2,201.0 425.9,201.0 426.6,201.0 427.3,200.9 428.0,201.5 428.6,202.2 429.3,202.8 430.0,203.3 430.7,202.6 431.4,202.0 432.0,201.3 432.7,200.6 433.4,200.2 434.0,200.3 434.7,200.6 435.4,200.0 436.1,200.4 436.8,200.6 437.4,201.3 438.1,201.7 438.8,202.8 439.5,203.9 440.1,204.4 440.8,205.0 441.4,205.7 442.1,206.7 442.7,207.3 443.4,206.7 444.0,205.6 444.7,205.2 445.4,204.6 446.1,204.9 446.7,205.3 447.4,206.0 448.1,205.6 448.8,204.3 449.4,203.9 450.1,203.9 450.8,203.6 451.5,203.0 452.1,203.2 452.8,203.1 453.5,203.0 454.2,203.8 454.9,204.0 455.5,204.4 456.2,204.7 456.9,204.9 457.6,204.5 458.2,203.9 458.9,204.1 459.5,203.9 460.2,203.9 460.9,203.7 461.6,204.0 462.2,204.3 462.9,204.7 463.6,205.2 464.3,205.3 465.0,205.3 465.7,205.9 466.3,206.9 467.0,207.8 467.7,208.0 468.4,207.9 469.0,208.2 469.7,208.5 470.3,209.2 471.0,209.3 471.7,208.8 472.4,208.8 473.1,208.3 473.7,207.8 474.4,207.6 475.1,207.3 475.8,206.9 476.4,206.7 477.1,206.4 477.8,206.3 478.4,205.9 479.1,206.0 479.8,205.6 480.5,205.2 481.1,205.3 481.8,204.7 482.5,204.7 483.2,204.6 483.9,204.2 484.5,204.0 485.2,203.3 485.9,203.1 486.5,202.5 487.2,201.9 487.9,201.3 488.5,200.4 489.2,199.8 489.9,199.2 490.6,197.7 491.3,196.0 492.0,194.5 492.7,193.7 493.3,192.9 494.0,192.5 494.6,192.3 495.3,191.8 496.0,191.9 496.7,191.9 497.3,191.9 498.0,192.5 498.7,192.5 499.4,191.9 500.1,191.6 500.7,191.2 501.4,190.4 502.1,190.5 502.8,189.7 503.4,189.0 504.1,188.4 504.8,187.6 505.4,187.1 506.1,186.4 506.8,186.5 507.5,186.5 508.1,186.9 508.8,187.3 509.5,186.9 510.1,186.5 510.8,186.1 511.5,186.0 512.2,187.2 512.9,187.9 513.5,188.8 514.2,189.1 514.9,189.9 515.5,190.8 516.2,191.7 516.9,193.1 517.6,193.5 518.2,194.6 518.9,195.8 519.6,195.9 520.2,195.1 520.9,194.7 521.6,194.5 522.3,195.1 523.0,195.2 523.6,195.4 524.3,195.4 525.0,195.8 525.7,196.1 526.4,196.5 527.0,196.7 527.7,197.0 528.4,197.4 529.1,197.2 529.8,197.0 530.4,196.8 531.1,196.3 531.7,195.6 532.4,195.2 533.1,194.7 533.8,194.3 534.4,193.2 535.1,192.5 535.8,192.5 536.5,192.6 537.1,192.2 537.8,191.8 538.5,191.4 539.1,191.6 539.7,191.9 540.3,192.4 540.9,192.5 541.5,192.9 542.1,193.5 542.8,193.2 543.5,193.1 544.2,192.7 544.9,192.8 545.6,192.9 546.3,192.8 547.0,192.8 547.8,193.0 548.5,193.2 549.2,192.8 549.9,193.8 550.6,194.4 551.3,194.9 552.0,196.3 552.6,196.2 553.2,196.2 553.8,196.1 554.5,195.6 555.1,195.3 555.7,194.8 556.3,194.9 556.9,193.9 557.5,193.7 558.1,193.2 558.7,193.1 559.3,193.2 559.9,192.7 560.5,192.8 561.1,192.8 561.7,191.9 562.3,192.1 563.0,191.4 563.6,190.6 564.2,190.5 564.8,189.9 565.4,189.9 566.0,189.8 566.6,189.5 567.2,189.9 567.8,190.3 568.4,190.3 569.0,190.7 569.6,191.0 570.2,191.5 570.9,191.7 571.5,191.7 572.1,191.9 572.8,191.9 573.4,192.4 574.0,192.8 574.7,192.1 575.4,191.9 576.1,191.4 576.8,191.4 577.5,190.7 578.1,190.8 578.7,190.7 579.3,191.0 579.9,191.2 580.5,191.4 581.1,192.1 581.7,192.1 582.3,191.8 582.9,191.7 583.5,191.4 584.2,191.1 584.8,190.9 585.4,190.7 586.0,190.7 586.6,191.2 587.2,191.5 587.9,191.5 588.5,191.7 589.1,191.9 589.8,192.0 590.4,191.9 591.0,192.1 591.6,191.6 592.2,192.0 592.8,192.3 593.4,192.5 594.0,192.3 594.6,192.4 595.2,192.8 595.9,192.5 596.6,191.9 597.4,191.6 598.1,190.7 598.8,190.7 599.4,190.4 600.0,189.5 600.6,189.2 601.2,189.1 601.8,188.8 602.4,188.5 603.0,188.5 603.6,188.3 604.2,188.4 604.8,188.1 605.5,187.6 606.1,187.2 606.7,186.6 607.3,186.4 607.9,185.9 608.5,185.7 609.1,185.4 609.7,185.6 610.3,185.9 610.9,185.4 611.5,185.0 612.1,185.1 612.7,185.2 613.3,185.9 613.9,186.5 614.5,186.6 615.1,186.4 615.8,187.7 616.5,189.1 617.2,191.0 617.9,192.1 618.8,193.6 619.6,194.2 620.2,193.5 620.9,192.4 621.5,191.4 622.1,189.9 622.7,189.5 623.3,189.0 623.9,188.1 624.5,186.9 625.1,186.3 625.7,185.7 626.4,185.1 627.1,185.0 627.8,184.8 628.5,184.3 629.4,186.0 630.2,187.1 630.8,186.3 631.5,185.6 632.1,184.6 632.8,186.3 633.5,188.0 634.2,189.9 634.8,191.3 635.5,193.0 636.1,194.4 636.7,196.3 637.1,196.5 637.7,196.5 638.3,196.0 638.9,195.4 639.5,194.2 640.1,193.8 640.7,193.6 641.3,193.2 641.9,193.5 642.5,193.2 643.2,192.7 643.8,192.9 644.4,192.9 645.0,192.2 645.6,191.9 646.2,191.4 646.8,191.3 647.5,191.3 648.1,191.0 648.7,191.0 649.3,191.2 649.9,190.7 650.5,190.0 651.1,189.3 651.7,189.2 652.3,189.3 652.9,188.9 653.5,188.9 654.1,188.6 654.7,188.4 655.3,188.6 655.9,188.3 656.5,188.3 657.2,188.5 657.9,189.0 658.6,189.2 659.3,189.3 660.0,189.8 660.8,190.3 661.5,191.2 662.2,191.1 662.9,189.8 663.6,189.4 664.3,188.3 664.9,188.0 665.5,187.7 666.1,187.4 666.7,187.1 667.3,186.8 667.9,187.2 668.5,186.7 669.1,186.4 669.7,186.1 670.3,186.1 670.9,185.6 671.5,185.5 672.2,184.9 672.9,184.8 673.6,184.3 674.3,183.6 675.0,180.8 675.8,178.6 676.5,175.8 677.2,173.6 677.9,171.5 678.6,170.4 679.3,169.7 679.9,171.8 680.5,174.1 681.1,176.5 682.0,174.8 682.9,173.6 683.5,174.2 684.2,175.0 684.8,175.8 685.6,174.0 686.5,172.2 687.2,172.0 688.0,171.7 688.7,171.5 689.4,171.7 690.1,172.0 690.8,172.2 691.5,172.3 692.2,172.9 692.9,172.8 693.7,172.5 694.4,172.3 695.1,171.5 695.8,171.6 696.5,171.9 697.2,171.6 697.9,171.2 698.6,172.3 699.4,172.9 700.1,173.6 700.8,174.8 701.5,175.8 702.1,175.9 702.7,175.2 703.3,174.4 703.9,174.6 704.5,174.6 705.1,174.6 705.8,175.0 706.5,175.6 707.3,176.3 708.0,176.5 708.7,176.2 709.4,175.5 710.1,175.8 710.8,175.5 711.5,174.4 712.2,173.5 713.0,172.6 713.7,171.7 714.4,171.8 715.1,172.1 715.8,172.6 716.5,172.9 717.1,173.3 717.7,173.5 718.3,173.9 718.9,174.7 719.5,174.7 720.1,174.6 720.8,173.4 721.5,172.2 722.3,171.7 723.0,171.5 723.7,170.7 724.4,169.8 725.1,169.3 725.8,170.2 726.6,170.1 727.3,170.7 728.0,170.7 728.7,169.8 729.4,168.9 730.1,169.0 730.9,169.8 731.6,170.0" stroke="#348ABD" stroke-width="2.4" stroke-opacity="0.2"/>
<polyline points="64.3,190.5 64.7,190.5 65.4,195.9 66.1,196.8 66.8,197.7 67.4,198.0 68.1,197.9 68.8,199.1 69.4,200.8 70.1,202.0 70.8,202.2 71.4,203.1 72.1,204.0 72.8,203.8 73.4,202.9 74.1,202.5 74.8,202.0 75.5,201.0 76.2,200.9 76.8,200.6 77.5,201.3 78.2,200.7 78.8,200.0 79.5,199.9 80.2,199.3 80.9,200.3 81.6,200.6 82.3,201.3 82.9,202.4 83.6,203.3 84.3,201.9 85.0,199.9 85.7,199.8 86.3,199.4 87.0,199.4 87.6,199.2 88.3,199.3 89.0,198.3 89.7,197.3 90.4,196.6 91.1,195.6 91.7,194.9 92.3,194.1 93.0,194.5 93.7,194.3 94.4,194.4 95.0,194.5 95.7,194.1 96.4,193.2 97.1,193.7 97.8,193.5 98.4,193.8 99.1,193.2 99.8,193.2 100.4,194.0 101.1,194.9 101.8,194.5 102.5,193.9 103.2,194.0 103.8,194.4 104.5,194.5 105.2,194.3 105.8,193.4 106.5,193.3 107.2,193.5 107.9,193.9 108.6,193.9 109.2,194.2 109.9,195.2 110.6,194.7 111.3,195.1 112.0,195.0 112.6,195.3 113.3,195.5 114.0,195.9 114.7,196.5 115.3,196.6 116.0,197.1 116.7,196.9 117.3,196.5 118.0,196.6 118.7,194.4 119.4,193.5 120.1,193.9 120.7,193.7 121.4,194.3 122.1,194.1 122.7,193.0 123.4,193.0 124.1,192.6 124.8,192.5 125.4,192.5 126.1,193.2 126.8,193.1 127.5,192.9 128.1,192.9 128.8,191.8 129.5,191.8 130.2,190.7 130.8,190.3 131.5,189.1 132.2,187.4 132.8,186.0 133.5,185.8 134.2,186.1 134.9,185.7 135.6,185.4 136.3,185.3 136.9,185.7 137.6,185.9 138.3,186.7 139.0,186.3 139.6,186.4 140.3,186.2 141.0,186.1 141.6,186.8 142.3,187.1 143.0,186.6 143.7,186.5 144.3,186.4 145.0,184.9 145.7,184.4 146.4,183.6 147.0,183.6 147.7,184.8 148.4,185.2 149.1,185.6 149.7,186.2 150.4,186.7 151.1,186.9 151.8,186.7 152.4,187.4 153.1,188.1 153.8,188.2 154.5,188.5 155.2,188.9 155.8,189.5 156.5,189.8 157.2,190.2 157.7,190.6 158.4,190.5 159.0,190.0 159.7,189.8 160.4,190.4 161.0,190.9 161.7,191.0 162.3,190.6 162.9,190.6 163.5,191.3 164.1,191.9 164.7,191.4 165.3,191.3 165.9,190.4 166.5,189.7 167.1,189.7 167.7,189.3 168.3,189.3 168.9,189.5 169.5,189.4 170.1,189.7 170.7,188.9 171.3,187.9 171.9,187.7 172.5,188.6 173.1,188.6 173.7,187.8 174.3,187.7 174.9,188.3 175.5,187.5 176.1,187.7 176.7,187.2 177.3,187.7 177.9,187.9 178.6,187.7 179.3,188.3 180.0,187.7 180.6,187.0 181.3,187.6 182.0,186.7 182.7,187.5 183.4,186.8 184.1,185.6 184.7,184.9 185.4,184.3 186.1,184.6 186.7,184.7 187.4,185.4 188.1,184.4 188.7,184.3 189.4,184.3 190.1,186.1 190.8,185.9 191.4,186.5 192.1,186.7 192.8,187.2 193.5,187.6 194.2,187.8 194.8,188.6 195.5,188.3 196.2,188.0 196.8,188.2 197.5,188.3 198.2,187.7 198.8,187.9 199.5,187.0 200.2,187.5 200.9,187.1 201.6,186.5 202.2,186.2 202.9,186.2 203.6,186.6 204.2,186.4 204.8,186.1 205.4,186.3 206.0,185.7 206.6,184.7 207.2,185.0 207.8,184.7 208.4,185.2 209.0,184.5 209.6,182.8 210.2,182.8 210.8,182.8 211.4,183.5 212.0,183.7 212.6,183.7 213.2,183.9 213.8,183.6 214.4,183.5 215.1,182.6 215.8,182.7 216.4,182.0 217.1,181.6 217.8,181.8 218.5,182.3 219.2,181.7 219.8,182.8 220.5,182.5 221.2,182.2 221.8,181.9 222.5,181.2 223.2,180.5 223.9,180.7 224.5,180.4 225.2,179.8 225.8,178.7 226.4,178.1 227.0,178.7 227.6,178.7 228.2,178.1 228.8,177.6 229.4,177.4 230.0,177.7 230.6,177.8 231.3,177.9 231.9,177.0 232.6,177.1 233.3,176.3 233.9,175.7 234.6,176.2 235.2,175.9 235.8,175.4 236.4,174.9 237.0,174.3 237.6,174.9 238.2,175.3 238.8,175.4 239.4,175.1 240.0,175.4 240.7,175.3 241.4,175.4 242.0,175.6 242.7,175.5 243.4,176.4 244.1,177.4 244.8,178.2 245.4,177.0 246.1,178.1 246.8,177.6 247.5,176.4 248.1,175.5 248.8,175.3 249.5,175.1 250.2,175.1 250.8,174.6 251.5,174.1 252.1,174.1 252.8,173.5 253.5,172.9 254.1,172.5 254.8,172.4 255.4,172.6 256.1,172.5 256.8,170.1 257.4,168.8 258.1,167.2 258.8,166.7 259.5,166.9 260.1,167.1 260.8,166.3 261.5,165.1 262.1,163.4 262.8,162.5 263.5,162.5 264.2,162.5 264.9,163.1 265.5,163.7 266.2,164.0 266.9,164.9 267.6,164.9 268.2,164.4 268.9,163.7 269.6,164.4 270.2,164.2 270.9,164.1 271.6,163.9 272.3,162.5 272.9,162.9 273.6,162.6 274.3,161.4 275.0,161.2 275.6,162.1 276.3,161.5 277.0,161.3 277.6,161.5 278.3,161.8 279.0,161.3 279.7,161.1 280.3,160.3 281.0,159.7 281.7,160.1 282.4,160.6 283.1,160.4 283.7,161.7 284.4,160.4 285.1,160.5 285.8,160.4 286.4,160.5 287.1,160.0 287.8,159.1 288.4,158.9 289.1,158.2 289.8,158.8 290.5,157.0 291.1,157.6 291.8,157.3 292.5,158.2 293.2,158.1 293.9,157.9 294.6,156.9 295.2,156.6 295.9,155.6 296.6,155.1 297.3,154.7 297.9,153.8 298.6,154.9 299.3,155.2 300.0,153.4 300.6,153.7 301.3,152.4 302.0,151.9 302.6,151.1 303.3,150.4 304.0,150.3 304.6,149.7 305.3,148.3 306.0,147.7 306.7,147.4 307.4,148.2 308.0,147.3 308.7,145.8 309.4,144.9 310.1,145.2 310.7,144.3 311.4,143.6 312.1,143.8 312.7,143.6 313.4,143.6 314.1,143.1 314.8,142.4 315.4,142.1 316.1,142.0 316.8,141.7 317.5,142.0 318.2,141.3 318.8,140.6 319.5,139.8 320.2,140.7 320.8,141.4 321.5,143.6 322.2,144.3 322.9,145.1 323.5,144.9 324.2,145.4 324.9,145.6 325.6,144.4 326.3,143.4 326.9,141.7 327.6,141.2 328.3,141.6 329.0,140.7 329.6,140.5 330.3,139.3 331.0,139.5 331.7,140.8 332.4,139.6 333.0,139.2 333.7,140.2 334.4,138.6 335.0,136.8 335.7,133.2 336.3,131.2 337.0,130.1 337.7,130.1 338.4,129.5 339.1,127.7 339.9,129.1 340.7,129.4 341.3,127.9 341.9,128.3 342.5,127.6 343.1,125.8 343.7,127.2 344.4,126.0 345.0,127.4 345.7,128.0 346.3,129.3 347.0,130.8 347.8,134.2 348.5,138.4 349.3,141.6 350.1,139.3 350.9,136.7 351.7,133.5 352.4,131.7 353.0,131.3 353.7,130.8 354.4,130.8 355.1,133.4 355.8,134.3 356.4,135.0 357.1,134.1 357.8,134.2 358.5,135.2 359.2,134.8 359.8,133.9 360.5,133.3 361.2,130.8 361.9,131.8 362.5,132.4 363.2,132.2 363.9,134.9 364.5,137.7 365.2,139.6 365.9,140.2 366.6,139.7 367.2,140.5 367.9,141.4 368.6,143.0 369.3,144.0 370.0,144.2 370.6,143.9 371.3,143.0 372.0,142.3 372.7,143.7 373.4,145.2 374.0,146.1 374.7,148.4 375.4,148.3 376.1,147.7 376.7,146.9 377.4,146.4 378.1,145.0 378.8,144.3 379.5,144.7 380.1,144.4 380.8,144.3 381.5,143.1 382.1,140.8 382.8,139.8 383.5,137.6 384.2,138.3 384.8,138.2 385.5,136.2 386.2,138.0 386.9,138.6 387.5,137.8 388.2,138.7 388.9,139.6 389.6,136.8 390.2,134.6 390.9,133.4 391.5,132.9 392.2,132.2 392.9,132.6 393.5,132.9 394.2,130.1 394.9,128.8 395.6,131.0 396.3,130.8 397.0,133.5 397.7,135.0 398.4,135.1 399.0,135.5 399.7,135.5 400.4,137.5 401.0,139.6 401.7,141.6 402.4,142.4 403.0,144.3 403.7,145.7 404.4,145.3 405.0,144.3 405.7,141.9 406.4,139.6 407.1,139.1 407.7,138.2 408.4,138.0 409.1,139.3 409.8,140.0 410.4,139.2 411.1,138.9 411.8,140.3 412.4,140.4 413.1,142.3 413.8,145.3 414.5,148.7 415.2,151.1 415.9,151.2 416.5,149.1 417.2,149.1 417.9,149.7 418.6,151.9 419.2,154.2 419.9,157.1 420.6,156.5 421.2,155.3 421.9,155.1 422.6,153.0 423.2,153.0 423.9,151.1 424.6,151.7 425.3,153.9 426.0,154.4 426.7,155.2 427.3,157.2 428.0,158.5 428.6,159.7 429.3,161.2 430.0,159.9 430.6,158.3 431.3,156.8 432.0,157.1 432.7,155.0 433.4,154.2 434.0,151.6 434.7,150.4 435.4,150.3 436.0,150.7 436.7,152.0 437.4,152.4 438.1,152.7 438.8,154.0 439.4,155.7 440.1,157.8 440.8,158.9 441.4,160.4 442.1,162.2 442.7,162.8 443.4,161.5 444.0,159.7 444.7,158.7 445.4,163.1 446.0,167.5 446.7,170.5 447.4,174.9 448.1,170.7 448.8,166.2 449.5,166.8 450.1,167.0 450.8,168.1 451.5,169.5 452.2,169.1 452.9,168.1 453.5,168.4 454.2,168.2 454.9,168.5 455.5,169.4 456.2,169.3 456.8,170.2 457.5,171.6 458.2,171.6 458.9,170.4 459.5,168.5 460.2,167.5 460.9,167.5 461.6,167.2 462.3,167.6 462.9,167.7 463.6,168.2 464.3,168.2 465.0,168.6 465.7,169.7 466.3,172.1 467.0,172.6 467.7,172.2 468.4,173.7 469.0,174.2 469.7,174.1 470.4,173.9 471.0,173.2 471.7,173.9 472.4,173.1 473.0,171.8 473.7,170.7 474.4,169.5 475.1,169.0 475.8,167.7 476.4,167.4 477.1,165.7 477.8,164.1 478.5,163.4 479.2,162.6 479.8,162.1 480.5,162.4 481.2,162.8 481.9,160.9 482.5,160.6 483.2,159.5 483.8,159.4 484.5,158.1 485.2,156.6 485.9,156.3 486.5,155.9 487.2,154.7 487.9,154.4 488.5,154.3 489.2,154.2 489.9,152.7 490.6,150.9 491.3,150.1 491.9,149.4 492.6,148.1 493.3,145.9 494.0,147.8 494.6,148.4 495.3,148.5 496.0,150.6 496.7,149.5 497.4,148.2 498.0,146.9 498.7,145.3 499.4,142.5 500.1,143.4 500.7,144.5 501.4,145.9 502.1,144.4 502.8,141.7 503.4,139.3 504.1,137.1 504.8,136.0 505.5,134.2 506.1,131.7 506.8,129.7 507.5,129.0 508.3,130.1 509.1,131.7 510.0,128.7 510.9,127.0 511.5,129.5 512.2,129.4 512.9,130.2 513.5,130.4 514.2,132.4 514.9,133.5 515.5,134.0 516.2,135.1 516.9,137.4 517.6,140.6 518.3,143.9 519.0,142.5 519.6,140.7 520.3,139.2 521.0,137.8 521.7,140.4 522.3,140.6 523.0,142.5 523.7,142.1 524.4,141.7 525.0,141.0 525.7,140.5 526.4,141.8 527.1,142.9 527.7,143.9 528.4,144.0 529.1,143.9 529.8,142.9 530.5,141.1 531.1,140.3 531.8,139.2 532.5,137.5 533.1,135.7 533.8,135.1 534.5,134.4 535.1,134.0 535.8,132.5 536.5,129.6 537.1,126.9 537.8,124.6 538.5,122.6 539.2,123.2 540.0,124.1 540.7,124.5 541.4,126.2 542.1,126.9 542.8,128.7 543.5,127.6 544.2,128.3 544.9,128.4 545.6,127.4 546.4,127.5 547.1,126.5 547.8,126.9 548.5,128.5 549.2,128.9 549.9,129.7 550.6,131.4 551.3,130.8 552.0,131.8 552.7,132.6 553.4,131.8 554.1,129.8 554.8,126.9 555.5,127.6 556.2,126.6 557.0,124.9 557.7,122.4 558.4,120.5 559.1,118.3 559.8,118.2 560.5,117.4 561.2,116.2 561.9,114.8 562.6,115.3 563.3,116.0 564.1,116.2 564.8,117.7 565.5,117.0 566.2,116.0 566.9,114.2 567.6,114.5 568.3,114.8 568.9,115.8 569.5,114.4 570.1,114.4 570.8,115.8 571.4,116.2 572.0,117.8 572.6,117.7 573.3,118.3 574.0,118.5 574.7,116.0 575.4,115.4 576.1,114.9 576.8,114.1 577.4,113.9 578.0,116.1 578.6,116.7 579.3,118.1 579.9,117.4 580.5,116.1 581.1,116.3 581.8,115.7 582.5,113.9 583.2,113.4 583.9,113.2 584.6,111.7 585.3,110.6 586.0,109.7 586.7,110.7 587.4,112.3 588.1,112.7 588.8,112.0 589.5,111.1 590.3,110.6 591.0,111.3 591.6,111.0 592.2,112.8 592.8,112.0 593.4,112.4 594.0,114.1 594.6,116.3 595.2,116.3 595.9,115.8 596.6,117.1 597.4,117.0 598.1,113.6 598.8,112.7 599.5,114.4 600.2,112.5 600.9,112.7 601.6,109.9 602.3,111.4 603.0,110.5 603.7,111.2 604.4,112.1 605.1,109.2 605.8,107.5 606.5,107.6 607.3,105.8 608.0,105.6 608.7,104.0 609.4,104.8 610.1,103.6 610.8,102.1 611.5,102.1 612.2,103.8 613.0,104.0 613.7,104.7 614.4,105.6 615.1,108.0 615.8,109.6 616.5,113.0 617.2,115.5 618.0,116.6 618.8,119.8 619.6,122.6 620.2,120.1 620.9,116.8 621.5,114.0 622.1,112.0 622.8,111.8 623.5,110.4 624.3,108.8 625.0,108.5 625.7,108.2 626.4,108.6 627.1,107.0 627.8,108.1 628.5,110.1 629.2,111.3 629.9,109.1 630.7,107.8 631.4,104.2 632.1,101.4 632.8,106.4 633.5,107.5 634.2,109.2 634.8,114.1 635.5,117.5 636.1,121.0 636.7,124.0 637.3,123.6 638.0,121.0 638.6,118.7 639.3,115.8 640.0,115.4 640.7,114.3 641.4,113.6 642.1,113.8 642.9,112.6 643.6,110.1 644.3,108.6 645.0,108.1 645.7,108.9 646.4,107.2 647.1,106.4 647.9,105.7 648.6,105.8 649.3,103.6 650.0,102.7 650.7,102.2 651.4,101.0 652.2,99.7 652.9,99.2 653.6,98.6 654.3,98.8 655.0,96.4 655.8,96.5 656.5,95.1 657.2,94.3 657.9,94.2 658.6,93.3 659.3,93.6 660.0,96.6 660.8,96.0 661.5,96.5 662.2,95.7 662.9,93.8 663.6,93.1 664.3,90.0 665.0,90.4 665.8,87.9 666.5,87.3 667.2,88.6 667.9,88.7 668.6,89.3 669.3,87.9 670.0,88.7 670.8,90.0 671.6,83.1 672.5,80.0 673.4,79.9 674.3,77.2 675.0,74.9 675.8,68.6 676.8,56.3 677.5,51.1 678.3,44.0 679.1,38.6 679.9,36.3 680.9,50.1 681.9,43.5 682.7,46.2 683.5,52.2 684.2,50.7 685.0,50.6 686.0,43.5 686.8,42.3 687.6,41.9 688.2,41.6 688.8,43.4 689.4,44.9 690.0,45.6 690.6,46.0 691.3,46.7 692.0,43.6 692.7,40.9 693.4,40.8 694.0,39.6 694.6,36.1 695.3,34.7 696.0,30.8 696.8,26.0 697.5,26.9 698.1,25.8 698.8,26.0 699.6,28.3 700.4,34.7 701.4,43.5 702.1,40.1 702.8,37.8 703.5,35.3 704.2,37.6 704.8,38.6 705.5,40.9 706.3,44.5 707.1,44.5 707.7,44.1 708.4,41.4 709.0,41.9 709.6,41.4 710.2,42.0 710.9,39.4 711.6,37.4 712.2,36.8 712.9,33.2 713.5,28.2 714.2,28.1 714.9,31.3 715.6,33.7 716.3,34.7 716.9,35.9 717.5,37.3 718.2,38.3 718.8,39.9 719.5,39.7 720.2,35.7 720.9,34.7 721.6,34.2 722.2,30.0 722.9,27.6 723.7,26.6 724.5,24.5 725.2,25.1 725.8,23.6 726.5,24.5 727.3,23.5 728.1,21.4 728.8,20.4 729.4,18.3 730.0,18.5 730.6,23.5 731.7,22.9" stroke="#E24A33" stroke-width="1.4"/>
<polyline points="64.3,190.5 64.7,190.5 65.4,196.6 66.1,197.6 66.8,197.8 67.4,198.2 68.1,198.6 68.8,200.5 69.4,201.8 70.1,203.3 70.8,204.7 71.5,206.0 72.2,205.5 72.8,205.1 73.5,204.7 74.2,204.5 74.8,204.7 75.5,204.6 76.2,203.6 76.8,204.1 77.5,204.0 78.2,202.9 78.8,202.2 79.5,201.4 80.2,200.6 80.9,201.2 81.6,202.2 82.3,202.6 83.1,204.7 83.9,206.0 84.8,204.3 85.6,202.6 86.3,202.8 87.0,202.8 87.6,203.0 88.3,202.0 89.0,202.0 89.7,201.0 90.3,199.8 91.0,199.3 91.7,199.0 92.4,199.0 93.0,198.4 93.7,198.5 94.4,198.0 95.1,197.5 95.8,198.0 96.4,198.1 97.1,197.9 97.8,197.7 98.4,197.1 99.1,196.6 99.8,197.3 100.5,197.2 101.2,197.8 101.8,197.8 102.5,198.4 103.2,198.6 103.9,199.2 104.5,199.6 105.2,199.5 105.9,199.0 106.5,198.8 107.2,198.9 107.9,199.1 108.6,199.7 109.2,200.5 109.9,200.9 110.6,201.3 111.3,201.5 111.9,201.4 112.6,201.7 113.3,201.6 114.0,202.0 114.6,201.9 115.3,201.6 116.0,201.3 116.7,200.9 117.3,200.3 118.0,200.0 118.7,199.9 119.4,199.6 120.1,200.0 120.7,200.3 121.4,200.7 122.1,201.3 122.8,200.8 123.4,201.0 124.1,200.9 124.8,200.9 125.4,200.8 126.1,200.6 126.8,199.8 127.5,199.3 128.1,199.4 128.8,199.1 129.5,198.7 130.2,198.3 130.9,197.7 131.5,197.5 132.2,197.7 132.9,196.9 133.5,196.7 134.2,196.6 134.9,196.3 135.6,196.2 136.2,196.2 136.9,196.6 137.6,196.6 138.3,197.2 139.0,197.5 139.6,197.9 140.3,198.1 141.0,198.3 141.7,197.8 142.3,197.7 143.0,197.9 143.7,197.5 144.4,196.8 145.0,196.2 145.7,195.5 146.3,195.0 147.0,194.3 147.6,194.1 148.2,193.9 148.8,194.3 149.4,194.6 150.0,195.1 150.6,195.3 151.2,195.5 151.8,195.2 152.5,195.9 153.1,195.8 153.8,196.4 154.5,196.3 155.1,196.3 155.8,196.6 156.5,196.6 157.1,196.6 157.8,197.0 158.4,197.4 159.1,197.7 159.7,197.8 160.4,197.7 161.0,197.8 161.7,197.8 162.4,197.5 163.1,197.4 163.8,197.0 164.4,196.4 165.1,195.9 165.8,196.0 166.5,195.9 167.2,195.9 167.8,195.9 168.5,195.9 169.2,195.9 169.8,196.1 170.5,196.3 171.2,195.3 171.8,195.1 172.4,195.9 173.0,195.4 173.6,195.3 174.2,195.5 174.8,195.4 175.4,195.7 176.0,195.2 176.6,194.7 177.2,194.5 177.8,194.0 178.4,193.5 179.0,193.5 179.6,193.4 180.2,193.2 180.8,192.9 181.4,192.8 182.0,192.6 182.7,192.2 183.3,192.1 184.0,192.0 184.7,191.8 185.3,191.8 186.0,191.3 186.7,191.5 187.4,191.5 188.1,192.1 188.7,192.5 189.4,193.3 190.1,194.0 190.8,194.3 191.5,194.4 192.1,194.9 192.8,195.2 193.5,195.6 194.2,195.4 194.8,195.7 195.5,195.9 196.2,196.1 196.9,196.3 197.5,196.2 198.2,195.6 198.9,195.3 199.6,194.9 200.2,194.6 200.9,194.7 201.6,194.8 202.3,195.5 202.9,195.7 203.6,196.1 204.3,196.4 205.0,196.5 205.6,196.0 206.3,196.2 207.0,196.0 207.7,195.6 208.3,195.6 209.0,195.6 209.6,195.6 210.2,195.5 210.8,195.2 211.4,194.4 212.0,194.5 212.6,194.6 213.2,194.5 213.8,194.3 214.4,194.3 215.0,193.9 215.6,194.0 216.2,193.9 216.8,193.4 217.4,193.4 218.0,193.4 218.6,193.8 219.2,193.9 219.8,193.3 220.5,193.0 221.2,193.2 221.8,193.4 222.5,193.3 223.2,193.2 223.8,193.4 224.5,193.3 225.2,193.3 225.8,193.5 226.4,193.5 227.0,193.1 227.6,192.7 228.2,192.6 228.8,193.0 229.4,192.8 230.0,193.2 230.6,192.9 231.3,192.7 231.9,192.8 232.6,192.4 233.3,192.3 234.0,191.7 234.6,191.8 235.3,192.0 236.0,191.9 236.6,192.1 237.3,192.1 238.0,191.6 238.7,192.6 239.3,192.9 240.0,193.3 240.7,193.7 241.4,194.1 242.1,195.1 242.7,194.9 243.4,195.1 244.1,195.3 244.8,195.8 245.4,196.5 246.1,196.9 246.8,197.0 247.5,196.3 248.1,196.1 248.8,196.1 249.5,196.0 250.1,196.1 250.8,195.6 251.5,195.8 252.1,195.9 252.8,195.7 253.4,195.3 254.1,195.5 254.7,195.1 255.4,194.9 256.0,194.5 256.6,194.9 257.2,194.8 257.8,194.5 258.4,194.3 259.0,194.1 259.6,194.0 260.2,193.4 260.8,192.9 261.5,193.0 262.1,193.3 262.8,193.0 263.5,193.0 264.2,192.7 264.9,192.0 265.5,191.9 266.2,191.5 266.8,191.8 267.4,191.8 268.0,191.8 268.6,191.4 269.2,191.4 269.8,190.9 270.4,191.0 271.0,191.4 271.6,191.1 272.3,191.2 273.0,191.4 273.6,191.2 274.3,191.3 275.0,191.2 275.6,190.8 276.3,190.0 277.0,189.5 277.7,189.1 278.3,189.9 279.0,190.1 279.7,190.1 280.4,189.8 281.0,190.4 281.7,190.1 282.4,190.2 283.0,190.1 283.7,189.8 284.4,189.2 285.1,188.8 285.7,188.1 286.4,187.9 287.0,188.1 287.6,188.1 288.2,188.1 288.8,187.6 289.4,187.4 290.0,186.8 290.6,186.4 291.2,186.3 291.8,186.8 292.5,187.0 293.1,187.2 293.8,186.7 294.5,187.0 295.2,186.8 295.9,186.6 296.5,186.3 297.2,186.5 297.8,186.1 298.4,186.0 299.0,185.7 299.6,185.4 300.2,185.5 300.8,185.5 301.4,185.5 302.0,185.6 302.6,185.4 303.3,185.1 304.0,184.8 304.6,184.3 305.3,184.4 306.0,184.2 306.6,184.3 307.3,184.6 308.0,184.3 308.7,184.3 309.4,184.6 310.0,184.5 310.7,184.7 311.4,184.6 312.0,184.2 312.7,184.1 313.4,183.4 314.1,183.4 314.8,182.9 315.4,183.1 316.1,182.5 316.8,182.3 317.5,182.1 318.2,181.9 318.8,181.9 319.5,181.6 320.2,182.2 320.9,182.8 321.5,183.6 322.2,184.3 322.9,184.8 323.6,185.1 324.2,185.3 324.9,185.6 325.6,185.4 326.3,185.3 327.0,185.4 327.6,185.0 328.3,184.9 329.0,185.1 329.6,184.9 330.3,184.9 331.0,184.8 331.7,185.1 332.4,185.1 333.0,185.0 333.7,184.3 334.4,184.1 335.0,183.6 335.7,183.3 336.4,182.7 337.0,182.3 337.7,181.6 338.4,181.5 339.1,181.9 339.7,181.3 340.4,180.7 341.1,180.7 341.9,180.2 342.6,179.3 343.4,178.7 344.0,179.1 344.6,179.6 345.2,180.3 345.8,180.4 346.4,181.2 347.1,181.8 347.7,182.1 348.4,185.0 349.0,187.3 349.7,189.5 350.4,188.8 351.0,187.4 351.7,186.9 352.4,186.2 353.1,186.0 353.8,185.7 354.4,185.0 355.1,184.9 355.8,184.4 356.5,184.8 357.2,184.4 357.8,184.5 358.5,183.7 359.2,183.7 359.9,184.1 360.5,184.1 361.2,183.9 361.9,184.4 362.5,185.2 363.2,186.1 363.9,186.7 364.5,186.7 365.2,187.5 365.9,187.7 366.6,188.4 367.2,188.3 367.9,188.3 368.6,188.0 369.3,188.2 370.0,188.8 370.6,188.5 371.3,188.5 372.0,188.2 372.7,188.5 373.4,188.9 374.0,189.6 374.7,189.8 375.4,190.2 376.1,190.4 376.7,190.3 377.4,190.2 378.1,190.1 378.8,189.7 379.4,189.6 380.1,189.5 380.8,189.0 381.4,188.9 382.1,188.4 382.8,188.2 383.4,187.7 384.1,187.5 384.8,187.5 385.5,187.5 386.1,187.3 386.8,187.9 387.5,188.2 388.2,188.8 388.9,189.6 389.5,189.9 390.2,190.5 390.9,190.9 391.6,190.5 392.3,190.5 392.9,190.4 393.6,191.0 394.3,190.9 395.0,191.5 395.6,192.5 396.3,193.3 397.0,193.6 397.7,194.4 398.3,194.8 399.0,196.1 399.6,196.4 400.3,196.9 401.0,196.6 401.7,197.0 402.3,198.2 403.0,198.7 403.7,199.0 404.4,198.5 405.1,197.9 405.8,197.3 406.4,197.6 407.1,197.7 407.8,197.6 408.5,197.8 409.1,197.2 409.8,196.3 410.4,196.2 411.1,196.0 411.8,196.5 412.5,196.9 413.1,197.6 413.8,198.3 414.5,199.2 415.2,200.2 415.9,201.0 416.6,200.3 417.2,200.2 417.9,199.5 418.6,199.6 419.3,200.5 419.9,201.2 420.6,202.3 421.3,201.6 421.9,201.0 422.6,200.4 423.2,199.9 423.9,199.6 424.6,200.5 425.2,201.0 425.9,201.0 426.6,201.0 427.3,200.9 428.0,201.5 428.6,202.2 429.3,202.8 430.0,203.3 430.7,202.6 431.4,202.0 432.0,201.3 432.7,200.6 433.4,200.2 434.0,200.3 434.7,200.6 435.4,200.0 436.1,200.4 436.8,200.6 437.4,201.3 438.1,201.7 438.8,202.8 439.5,203.9 440.1,204.4 440.8,205.0 441.4,205.7 442.1,206.7 442.7,207.3 443.4,206.7 444.0,205.6 444.7,205.2 445.4,204.6 446.1,204.9 446.7,205.3 447.4,206.0 448.1,205.6 448.8,204.3 449.4,203.9 450.1,203.9 450.8,203.6 451.5,203.0 452.1,203.2 452.8,203.1 453.5,203.0 454.2,203.8 454.9,204.0 455.5,204.4 456.2,204.7 456.9,204.9 457.6,204.5 458.2,203.9 458.9,204.1 459.5,203.9 460.2,203.9 460.9,203.7 461.6,204.0 462.2,204.3 462.9,204.7 463.6,205.2 464.3,205.3 465.0,205.3 465.7,205.9 466.3,206.9 467.0,207.8 467.7,208.0 468.4,207.9 469.0,208.2 469.7,208.5 470.3,209.2 471.0,209.3 471.7,208.8 472.4,208.8 473.1,208.3 473.7,207.8 474.4,207.6 475.1,207.3 475.8,206.9 476.4,206.7 477.1,206.4 477.8,206.3 478.4,205.9 479.1,206.0 479.8,205.6 480.5,205.2 481.1,205.3 481.8,204.7 482.5,204.7 483.2,204.6 483.9,204.2 484.5,204.0 485.2,203.3 485.9,203.1 486.5,202.5 487.2,201.9 487.9,201.3 488.5,200.4 489.2,199.8 489.9,199.2 490.6,197.7 491.3,196.0 492.0,194.5 492.7,193.7 493.3,192.9 494.0,192.5 494.6,192.3 495.3,191.8 496.0,191.9 496.7,191.9 497.3,191.9 498.0,192.5 498.7,192.5 499.4,191.9 500.1,191.6 500.7,191.2 501.4,190.4 502.1,190.5 502.8,189.7 503.4,189.0 504.1,188.4 504.8,187.6 505.4,187.1 506.1,186.4 506.8,186.5 507.5,186.5 508.1,186.9 508.8,187.3 509.5,186.9 510.1,186.5 510.8,186.1 511.5,186.0 512.2,187.2 512.9,187.9 513.5,188.8 514.2,189.1 514.9,189.9 515.5,190.8 516.2,191.7 516.9,193.1 517.6,193.5 518.2,194.6 518.9,195.8 519.6,195.9 520.2,195.1 520.9,194.7 521.6,194.5 522.3,195.1 523.0,195.2 523.6,195.4 524.3,195.4 525.0,195.8 525.7,196.1 526.4,196.5 527.0,196.7 527.7,197.0 528.4,197.4 529.1,197.2 529.8,197.0 530.4,196.8 531.1,196.3 531.7,195.6 532.4,195.2 533.1,194.7 533.8,194.3 534.4,193.2 535.1,192.5 535.8,192.5 536.5,192.6 537.1,192.2 537.8,191.8 538.5,191.4 539.1,191.6 539.7,191.9 540.3,192.4 540.9,192.5 541.5,192.9 542.1,193.5 542.8,193.2 543.5,193.1 544.2,192.7 544.9,192.8 545.6,192.9 546.3,192.8 547.0,192.8 547.8,193.0 548.5,193.2 549.2,192.8 549.9,193.8 550.6,194.4 551.3,194.9 552.0,196.3 552.6,196.2 553.2,196.2 553.8,196.1 554.5,195.6 555.1,195.3 555.7,194.8 556.3,194.9 556.9,193.9 557.5,193.7 558.1,193.2 558.7,193.1 559.3,193.2 559.9,192.7 560.5,192.8 561.1,192.8 561.7,191.9 562.3,192.1 563.0,191.4 563.6,190.6 564.2,190.5 564.8,189.9 565.4,189.9 566.0,189.8 566.6,189.5 567.2,189.9 567.8,190.3 568.4,190.3 569.0,190.7 569.6,191.0 570.2,191.5 570.9,191.7 571.5,191.7 572.1,191.9 572.8,191.9 573.4,192.4 574.0,192.8 574.7,192.1 575.4,191.9 576.1,191.4 576.8,191.4 577.5,190.7 578.1,190.8 578.7,190.7 579.3,191.0 579.9,191.2 580.5,191.4 581.1,192.1 581.7,192.1 582.3,191.8 582.9,191.7 583.5,191.4 584.2,191.1 584.8,190.9 585.4,190.7 586.0,190.7 586.6,191.2 587.2,191.5 587.9,191.5 588.5,191.7 589.1,191.9 589.8,192.0 590.4,191.9 591.0,192.1 591.6,191.6 592.2,192.0 592.8,192.3 593.4,192.5 594.0,192.3 594.6,192.4 595.2,192.8 595.9,192.5 596.6,191.9 597.4,191.6 598.1,190.7 598.8,190.7 599.4,190.4 600.0,189.5 600.6,189.2 601.2,189.1 601.8,188.8 602.4,188.5 603.0,188.5 603.6,188.3 604.2,188.4 604.8,188.1 605.5,187.6 606.1,187.2 606.7,186.6 607.3,186.4 607.9,185.9 608.5,185.7 609.1,185.4 609.7,185.6 610.3,185.9 610.9,185.4 611.5,185.0 612.1,185.1 612.7,185.2 613.3,185.9 613.9,186.5 614.5,186.6 615.1,186.4 615.8,187.7 616.5,189.1 617.2,191.0 617.9,192.1 618.8,193.6 619.6,194.2 620.2,193.5 620.9,192.4 621.5,191.4 622.1,189.9 622.7,189.5 623.3,189.0 623.9,188.1 624.5,186.9 625.1,186.3 625.7,185.7 626.4,185.1 627.1,185.0 627.8,184.8 628.5,184.3 629.4,186.0 630.2,187.1 630.8,186.3 631.5,185.6 632.1,184.6 632.8,186.3 633.5,188.0 634.2,189.9 634.8,191.3 635.5,193.0 636.1,194.4 636.7,196.3 637.1,196.5 637.7,196.5 638.3,196.0 638.9,195.4 639.5,194.2 640.1,193.8 640.7,193.6 641.3,193.2 641.9,193.5 642.5,193.2 643.2,192.7 643.8,192.9 644.4,192.9 645.0,192.2 645.6,191.9 646.2,191.4 646.8,191.3 647.5,191.3 648.1,191.0 648.7,191.0 649.3,191.2 649.9,190.7 650.5,190.0 651.1,189.3 651.7,189.2 652.3,189.3 652.9,188.9 653.5,188.9 654.1,188.6 654.7,188.4 655.3,188.6 655.9,188.3 656.5,188.3 657.2,188.5 657.9,189.0 658.6,189.2 659.3,189.3 660.0,189.8 660.8,190.3 661.5,191.2 662.2,191.1 662.9,189.8 663.6,189.4 664.3,188.3 664.9,188.0 665.5,187.7 666.1,187.4 666.7,187.1 667.3,186.8 667.9,187.2 668.5,186.7 669.1,186.4 669.7,186.1 670.3,186.1 670.9,185.6 671.5,185.5 672.2,184.9 672.9,184.8 673.6,184.3 674.3,183.6 675.0,180.8 675.8,178.6 676.5,175.8 677.2,173.6 677.9,171.5 678.6,170.4 679.3,169.7 679.9,171.8 680.5,174.1 681.1,176.5 682.0,174.8 682.9,173.6 683.5,174.2 684.2,175.0 684.8,175.8 685.6,174.0 686.5,172.2 687.2,172.0 688.0,171.7 688.7,171.5 689.4,171.7 690.1,172.0 690.8,172.2 691.5,172.3 692.2,172.9 692.9,172.8 693.7,172.5 694.4,172.3 695.1,171.5 695.8,171.6 696.5,171.9 697.2,171.6 697.9,171.2 698.6,172.3 699.4,172.9 700.1,173.6 700.8,174.8 701.5,175.8 702.1,175.9 702.7,175.2 703.3,174.4 703.9,174.6 704.5,174.6 705.1,174.6 705.8,175.0 706.5,175.6 707.3,176.3 708.0,176.5 708.7,176.2 709.4,175.5 710.1,175.8 710.8,175.5 711.5,174.4 712.2,173.5 713.0,172.6 713.7,171.7 714.4,171.8 715.1,172.1 715.8,172.6 716.5,172.9 717.1,173.3 717.7,173.5 718.3,173.9 718.9,174.7 719.5,174.7 720.1,174.6 720.8,173.4 721.5,172.2 722.3,171.7 723.0,171.5 723.7,170.7 724.4,169.8 725.1,169.3 725.8,170.2 726.6,170.1 727.3,170.7 728.0,170.7 728.7,169.8 729.4,168.9 730.1,169.0 730.9,169.8 731.6,170.0" stroke="#348ABD" stroke-width="1.4"/>
</g>
<rect x="67.6" y="10.2" width="72" height="16.2" rx="1.5" fill="#E5E5E5" fill-opacity="0.8" stroke="#dadada" stroke-width="0.5"/>
<line x1="69.6" y1="14.5" x2="88.6" y2="14.5" stroke="#E24A33" stroke-width="1.1"/>
<line x1="69.6" y1="21.5" x2="88.6" y2="21.5" stroke="#348ABD" stroke-width="1.1"/>
<text transform="translate(94.4,16.5) scale(1.75,1)" font-size="4.6" style="fill:#333">Strategy</text>
<text transform="translate(94.4,23.2) scale(1.75,1)" font-size="4.6" style="fill:#333">Benchmark</text>
<g clip-path="url(#c1)" fill="none" stroke-linejoin="round" stroke-linecap="round">
<polyline points="64.2,461.4 65.0,460.9 65.8,461.0 66.6,460.1 67.3,460.7 68.0,460.9 68.7,461.0 69.4,462.0 70.0,461.5 70.7,460.9 71.3,460.7 71.9,460.6 72.6,460.0 73.2,459.7 73.9,459.7 74.5,460.0 75.2,460.2 75.8,460.1 76.5,459.8 77.2,459.6 77.8,459.9 78.5,460.3 79.1,460.5 79.8,461.0 80.4,460.2 81.1,460.0 81.7,459.9 82.3,460.0 83.0,459.5 83.6,459.1 84.2,458.3 84.8,458.3 85.4,457.4 86.0,456.9 86.6,457.6 87.2,456.7 87.8,457.2 88.4,457.5 89.0,457.5 89.6,457.8 90.2,458.2 90.9,458.6 91.6,458.5 92.3,458.2 92.9,457.8 93.6,457.4 94.3,457.3 95.0,456.9 95.6,457.8 96.2,457.3 96.9,457.2 97.5,457.2 98.1,456.6 98.7,457.9 99.4,457.2 100.0,457.4 100.6,457.6 101.2,458.3 101.9,457.3 102.5,457.7 103.1,457.3 103.8,457.2 104.4,456.8 105.0,457.0 105.7,456.4 106.3,456.3 107.0,456.1 107.6,456.5 108.3,455.0 109.0,455.3 109.7,455.3 110.3,454.7 111.0,454.4 111.7,454.4 112.4,455.3 113.1,455.6 113.8,455.7 114.4,455.9 115.1,456.2 115.7,456.5 116.3,456.4 117.0,457.7 117.6,457.2 118.3,455.5 119.0,455.4 119.8,455.2 120.5,455.3 121.2,454.9 121.8,454.4 122.5,454.2 123.2,454.3 123.9,453.8 124.5,453.3 125.2,453.8 125.8,454.0 126.4,453.5 127.1,454.5 127.7,454.9 128.3,454.5 128.9,454.0 129.6,454.1 130.2,453.6 130.8,453.1 131.4,451.1 132.1,449.5 132.7,448.7 133.3,448.5 134.0,447.8 134.6,448.2 135.2,448.5 135.9,449.2 136.5,450.0 137.1,450.2 137.8,450.4 138.4,450.6 139.0,449.3 139.7,448.8 140.3,448.7 141.0,449.2 141.7,449.4 142.4,449.7 143.1,449.7 143.8,449.5 144.6,449.5 145.3,449.3 146.0,449.3 146.7,449.4 147.4,450.4 148.1,451.3 148.8,451.6 149.4,450.9 150.1,451.2 150.7,452.0 151.3,452.0 152.0,452.1 152.6,452.2 153.2,452.8 153.9,452.7 154.5,453.5 155.1,453.6 155.7,454.2 156.4,454.5 157.0,454.6 157.6,454.1 158.2,454.0 158.9,454.1 159.5,454.7 160.1,455.0 160.7,454.7 161.4,454.9 162.0,455.4 162.6,455.4 163.3,455.2 163.9,455.0 164.5,455.4 165.2,455.7 165.8,455.3 166.4,455.5 167.1,455.3 167.7,455.0 168.3,455.5 168.9,455.7 169.6,455.3 170.2,455.2 170.8,455.3 171.4,454.9 172.1,454.8 172.7,454.9 173.3,454.0 173.9,454.1 174.6,454.3 175.2,454.4 175.8,454.0 176.5,454.4 177.1,454.3 177.7,454.8 178.4,455.3 179.0,455.6 179.6,455.5 180.3,455.5 180.9,456.1 181.5,456.0 182.2,456.4 182.8,456.9 183.4,456.3 184.1,456.8 184.7,456.3 185.3,456.8 186.0,455.3 186.6,453.8 187.2,454.0 187.9,454.0 188.5,453.6 189.1,453.3 189.8,452.2 190.4,451.6 191.1,451.5 191.8,451.8 192.5,452.7 193.2,453.1 193.8,453.1 194.5,452.7 195.1,452.4 195.7,452.3 196.4,452.0 197.0,452.5 197.7,451.6 198.3,452.0 199.0,451.1 199.7,451.1 200.3,450.5 201.0,451.1 201.6,451.0 202.2,451.0 202.9,451.2 203.5,450.7 204.1,450.0 204.8,448.8 205.4,449.2 206.1,449.1 206.7,449.1 207.4,449.3 208.0,450.5 208.7,449.9 209.4,450.2 210.0,450.3 210.7,450.8 211.3,450.2 212.0,450.2 212.6,450.4 213.3,450.8 213.9,451.4 214.5,450.7 215.2,450.5 215.8,450.2 216.4,449.3 217.1,448.3 217.7,448.4 218.3,448.3 219.0,448.0 219.6,448.3 220.3,447.4 220.9,447.2 221.6,446.8 222.2,446.3 222.9,446.1 223.6,445.8 224.2,445.5 224.9,445.2 225.5,445.7 226.2,445.1 226.8,445.3 227.4,445.3 228.0,444.8 228.6,444.9 229.2,444.1 229.8,444.4 230.4,443.7 231.0,443.1 231.6,443.0 232.2,443.1 232.8,443.2 233.5,443.3 234.1,442.7 234.8,441.9 235.5,441.7 236.2,441.5 236.8,440.6 237.5,440.7 238.2,440.3 238.9,439.3 239.6,439.1 240.3,437.9 240.9,438.0 241.6,438.7 242.2,438.5 242.8,439.0 243.5,438.9 244.1,439.8 244.7,439.0 245.4,438.8 246.0,437.6 246.6,437.0 247.3,437.1 247.9,437.0 248.6,435.4 249.3,435.4 250.0,435.3 250.7,434.5 251.3,435.0 252.0,434.2 252.6,433.9 253.2,434.2 253.9,434.7 254.5,435.1 255.1,434.2 255.8,432.9 256.4,432.8 257.0,431.7 257.7,431.3 258.3,430.3 259.0,430.6 259.7,430.7 260.4,430.6 261.1,430.3 261.8,429.6 262.6,428.7 263.3,428.1 264.0,427.5 264.6,427.8 265.2,427.5 265.9,428.6 266.5,428.8 267.1,429.5 267.7,430.3 268.3,429.7 269.0,428.7 269.6,429.3 270.2,429.0 270.9,429.0 271.5,428.8 272.1,428.9 272.8,428.2 273.4,428.2 274.0,427.9 274.7,427.9 275.3,426.6 276.0,427.5 276.7,428.1 277.4,427.5 278.1,427.5 278.7,426.9 279.4,426.7 280.0,426.2 280.6,426.4 281.3,425.8 281.9,424.7 282.5,424.3 283.2,424.7 283.8,424.3 284.4,424.7 285.1,425.3 285.7,425.6 286.3,426.4 287.0,426.5 287.6,426.6 288.2,426.5 288.9,426.3 289.5,425.6 290.2,426.0 290.9,426.2 291.6,426.1 292.3,426.9 293.0,426.2 293.6,425.0 294.3,424.8 295.0,424.4 295.7,424.1 296.3,422.7 297.0,420.9 297.6,421.0 298.3,420.9 298.9,421.1 299.5,421.1 300.2,421.7 300.8,421.2 301.4,421.4 302.1,420.6 302.7,419.0 303.4,418.0 304.0,418.2 304.7,416.5 305.4,416.4 306.1,415.3 306.7,414.4 307.4,413.7 308.1,413.5 308.7,412.6 309.4,412.4 310.1,412.3 310.8,412.5 311.4,411.7 312.1,412.4 312.7,413.4 313.4,414.8 314.0,413.8 314.6,413.7 315.3,412.3 315.9,412.4 316.5,412.5 317.2,411.5 317.8,410.3 318.4,410.2 319.1,410.3 319.7,409.6 320.4,410.1 321.0,409.1 321.7,409.3 322.4,410.1 323.1,410.8 323.7,412.5 324.4,412.4 325.0,410.1 325.7,409.5 326.3,408.3 326.9,407.6 327.6,407.2 328.2,406.7 328.8,407.0 329.5,407.3 330.1,405.6 330.7,405.0 331.4,405.7 332.0,404.8 332.6,405.4 333.2,405.3 333.8,405.0 334.4,404.4 335.1,403.3 335.7,401.4 336.3,400.3 337.0,397.7 337.6,395.5 338.3,395.9 339.0,395.6 339.7,394.6 340.4,394.6 341.0,395.5 341.7,397.0 342.3,398.3 343.0,397.9 343.7,397.3 344.4,396.9 345.1,396.5 345.8,398.3 346.5,400.2 347.2,402.0 347.9,403.1 348.6,401.2 349.4,400.1 350.1,398.1 350.8,396.5 351.5,395.2 352.2,394.7 352.9,395.5 353.6,394.6 354.3,394.0 354.9,394.4 355.6,396.0 356.3,397.5 357.0,397.8 357.6,397.9 358.3,398.3 358.9,397.6 359.6,397.6 360.2,397.3 360.8,396.2 361.5,395.7 362.1,395.5 362.8,395.9 363.6,396.2 364.3,397.9 365.0,400.2 365.7,401.3 366.4,402.3 367.1,403.9 367.8,405.0 368.4,404.8 369.1,406.0 369.7,405.6 370.3,405.4 371.0,405.3 371.6,405.0 372.3,405.6 373.0,406.8 373.7,408.5 374.4,409.7 375.0,409.4 375.7,408.2 376.3,407.9 376.9,406.9 377.6,406.5 378.2,406.8 378.8,406.2 379.5,405.3 380.1,404.0 380.7,403.3 381.4,402.6 382.0,401.2 382.7,400.2 383.4,400.1 384.1,398.4 384.8,397.4 385.4,396.8 386.1,398.1 386.7,398.7 387.3,399.3 388.0,399.8 388.6,400.2 389.3,398.6 390.0,395.7 390.7,394.1 391.4,392.7 392.0,390.5 392.7,390.0 393.3,389.3 393.9,387.1 394.6,385.6 395.2,384.2 395.8,384.2 396.5,384.9 397.1,384.4 397.7,384.6 398.4,385.2 399.0,386.1 399.6,387.9 400.2,389.5 400.8,391.7 401.5,391.5 402.2,393.3 403.0,394.3 403.7,394.6 404.4,393.2 405.1,390.8 405.8,388.3 406.5,387.0 407.2,387.3 407.9,388.7 408.7,389.0 409.4,388.9 410.0,388.8 410.6,390.5 411.2,391.1 411.9,391.2 412.5,391.0 413.1,390.8 413.7,393.2 414.4,396.0 415.0,399.3 415.7,400.3 416.4,400.8 417.2,400.5 417.9,400.2 418.6,400.1 419.3,401.0 420.0,402.7 420.7,404.0 421.4,403.5 422.1,401.9 422.8,401.7 423.5,401.2 424.2,402.6 424.9,404.2 425.7,404.0 426.4,405.0 427.1,405.2 427.8,407.2 428.4,407.9 429.1,408.3 429.8,409.7 430.4,407.9 431.1,407.6 431.7,406.0 432.4,404.8 433.0,403.1 433.7,403.2 434.4,401.2 435.1,401.2 435.8,400.2 436.4,400.8 437.1,400.7 437.7,401.4 438.3,402.2 439.0,403.2 439.6,404.0 440.3,404.8 440.9,405.8 441.6,405.9 442.3,405.5 443.0,405.0 443.6,405.8 444.3,405.9 444.9,409.7 445.6,412.8 446.2,415.3 446.9,418.8 447.5,422.9 448.2,419.8 449.0,416.3 449.6,416.1 450.3,417.0 450.9,417.0 451.5,417.1 452.2,417.9 452.8,418.2 453.5,418.5 454.1,418.4 454.8,418.3 455.5,418.6 456.2,419.0 456.8,419.6 457.5,419.5 458.2,418.7 458.9,418.0 459.7,417.0 460.4,416.3 461.0,416.7 461.6,416.6 462.2,416.4 462.9,415.6 463.5,415.6 464.1,415.3 464.8,415.1 465.6,414.6 466.3,414.9 467.0,416.5 467.6,417.0 468.2,417.2 468.8,417.7 469.5,417.3 470.1,417.4 470.8,417.0 471.5,416.6 472.2,416.7 472.8,416.9 473.5,416.8 474.1,415.3 474.8,414.5 475.4,412.9 476.0,412.4 476.7,411.2 477.3,410.2 478.0,410.7 478.6,411.1 479.3,410.3 480.0,410.2 480.7,410.5 481.3,409.8 482.0,408.3 482.7,407.4 483.3,406.6 484.0,406.0 484.7,405.2 485.4,404.5 486.0,403.8 486.7,403.9 487.3,404.2 488.0,404.6 488.6,404.4 489.2,405.1 489.9,405.0 490.5,405.5 491.2,403.8 491.9,403.6 492.6,403.2 493.3,402.6 494.1,405.0 494.8,406.8 495.6,408.3 496.2,406.4 496.8,406.0 497.4,404.9 498.0,403.8 498.6,401.7 499.3,403.0 500.0,403.8 500.6,404.1 501.3,404.5 502.0,402.3 502.7,401.7 503.3,399.8 504.0,399.3 504.7,397.9 505.4,395.5 506.1,393.9 506.8,392.1 507.5,389.4 508.1,390.2 508.8,391.6 509.4,392.3 510.0,392.2 510.7,391.5 511.5,390.3 512.2,389.4 512.8,390.1 513.5,390.7 514.1,391.3 514.7,390.7 515.4,391.7 516.0,392.2 516.7,392.9 517.4,394.0 518.1,396.3 518.8,396.4 519.5,394.1 520.2,393.4 521.0,391.6 521.7,391.3 522.4,391.6 523.1,392.3 523.8,393.9 524.5,395.6 525.2,395.5 525.9,395.4 526.6,394.8 527.3,394.1 528.0,394.0 528.8,395.0 529.5,395.5 530.2,395.6 530.9,394.1 531.6,393.0 532.3,392.1 533.0,390.3 533.7,387.8 534.4,385.6 535.1,385.1 535.8,382.8 536.5,382.3 537.2,379.6 538.0,378.8 538.7,376.2 539.3,375.7 540.0,375.6 540.6,375.8 541.2,376.3 541.9,377.0 542.5,377.5 543.1,376.8 543.7,378.4 544.4,378.3 545.0,378.5 545.6,379.6 546.2,380.0 546.8,380.2 547.5,380.3 548.1,381.5 548.7,380.4 549.4,379.5 550.0,379.4 550.6,378.9 551.3,379.4 551.9,381.3 552.5,380.2 553.2,379.7 553.8,379.5 554.4,377.9 555.1,377.4 555.7,376.2 556.3,374.3 557.0,373.0 557.6,371.9 558.2,370.5 558.9,368.9 559.5,368.6 560.2,367.8 561.0,366.6 561.7,364.8 562.3,365.0 563.0,365.4 563.6,365.5 564.2,366.7 564.8,368.5 565.5,370.3 566.1,371.4 566.8,370.1 567.5,369.2 568.2,368.3 568.9,367.7 569.5,369.0 570.2,368.5 570.8,370.3 571.4,368.7 572.1,367.3 572.7,366.2 573.4,365.7 574.1,365.9 574.8,367.9 575.5,367.7 576.2,368.0 577.0,367.2 577.7,366.8 578.4,365.4 579.0,367.0 579.6,366.8 580.2,366.0 580.9,367.7 581.5,367.6 582.1,367.7 582.7,366.6 583.4,365.0 584.0,362.9 584.6,361.8 585.3,362.2 585.9,361.6 586.6,361.2 587.2,361.7 587.9,360.7 588.6,361.5 589.3,361.2 589.9,360.2 590.6,360.5 591.3,361.0 592.0,360.8 592.8,361.1 593.5,362.0 594.2,364.0 594.9,364.2 595.6,362.9 596.3,365.4 596.9,364.8 597.6,364.1 598.2,364.1 598.8,363.3 599.5,363.8 600.1,362.4 600.7,361.7 601.3,360.2 602.0,360.9 602.6,360.2 603.2,360.6 603.8,361.3 604.5,359.6 605.2,358.7 606.0,358.6 606.7,358.0 607.3,358.5 608.0,359.9 608.6,361.3 609.3,360.0 610.0,359.0 610.7,358.7 611.4,358.0 612.1,358.7 612.8,358.4 613.6,360.5 614.3,360.9 615.0,362.7 615.7,364.3 616.4,365.9 617.1,367.6 617.7,367.8 618.4,369.0 619.0,370.8 619.7,369.0 620.5,367.5 621.2,365.8 621.9,363.7 622.6,364.7 623.3,363.6 624.0,363.4 624.7,363.7 625.3,364.1 626.0,363.5 626.6,362.8 627.4,365.2 628.1,365.5 628.9,366.6 629.5,365.8 630.1,364.6 630.8,361.8 631.4,359.0 632.0,359.9 632.7,360.2 633.3,360.9 634.0,364.2 634.8,367.5 635.5,369.6 636.2,371.4 636.8,371.7 637.5,370.8 638.1,369.5 638.8,367.0 639.5,366.5 640.2,364.6 640.9,362.8 641.5,362.7 642.2,362.4 642.8,362.2 643.4,360.6 644.1,357.5 644.7,356.1 645.4,355.6 646.2,354.7 646.9,355.2 647.6,355.2 648.3,353.5 649.0,353.2 649.7,352.2 650.4,351.0 651.0,351.5 651.7,349.6 652.3,350.0 652.9,350.5 653.6,348.2 654.2,347.6 654.8,347.3 655.5,346.1 656.1,345.4 656.7,344.6 657.4,344.5 658.0,343.8 658.6,341.1 659.3,341.4 659.9,341.4 660.5,339.8 661.2,339.8 661.8,340.9 662.5,339.1 663.2,338.4 664.0,337.5 664.7,337.7 665.3,336.9 666.0,335.0 666.6,335.6 667.2,334.8 667.9,334.9 668.5,336.5 669.3,336.1 670.0,336.0 670.8,337.1 671.4,334.1 672.0,331.7 672.7,328.7 673.3,328.5 674.0,325.4 674.8,322.1 675.5,318.5 676.1,314.9 676.8,309.3 677.5,304.2 678.3,300.1 678.9,296.8 679.6,294.9 680.2,292.9 681.2,301.1 681.9,298.4 682.6,299.0 683.3,301.3 684.0,303.1 684.8,300.6 685.5,299.0 686.1,297.9 686.8,297.0 687.5,296.5 688.1,298.5 688.7,298.5 689.4,298.9 690.0,299.0 690.6,300.6 691.3,298.9 692.0,296.6 692.7,295.9 693.4,295.3 694.0,294.5 694.7,292.9 695.4,288.4 696.1,285.1 696.8,280.1 697.5,279.4 698.1,280.3 698.8,279.5 699.6,283.2 700.4,287.7 701.4,295.9 702.1,290.4 702.8,289.7 703.5,286.7 704.2,289.1 704.8,291.2 705.5,293.4 706.4,292.9 707.3,295.9 708.1,293.9 708.8,291.5 709.6,292.4 710.2,290.1 710.9,290.2 711.6,289.2 712.2,286.7 712.9,286.6 713.5,282.3 714.2,280.1 714.9,282.2 715.6,284.6 716.3,285.7 716.9,289.2 717.5,291.4 718.2,291.9 718.8,292.4 719.5,290.6 720.2,287.3 720.9,285.7 721.6,284.9 722.2,283.0 722.9,279.5 723.6,277.3 724.3,277.1 725.0,275.9 725.8,278.1 726.5,277.5 727.3,275.3 728.1,273.4 728.8,272.2 729.4,271.3 730.0,274.6 730.6,276.5 731.7,277.0" stroke="#E24A33" stroke-width="2.4" stroke-opacity="0.2"/>
<polyline points="64.2,461.4 65.0,460.9 65.8,461.0 66.6,460.1 67.3,460.7 68.0,460.9 68.7,461.0 69.4,462.0 70.0,461.5 70.7,460.9 71.3,460.7 71.9,460.6 72.6,460.0 73.2,459.7 73.9,459.7 74.5,460.0 75.2,460.2 75.8,460.1 76.5,459.8 77.2,459.6 77.8,459.9 78.5,460.3 79.1,460.5 79.8,461.0 80.4,460.2 81.1,460.0 81.7,459.9 82.3,460.0 83.0,459.5 83.6,459.1 84.2,458.3 84.8,458.3 85.4,457.4 86.0,456.9 86.6,457.6 87.2,456.7 87.8,457.2 88.4,457.5 89.0,457.5 89.6,457.8 90.2,458.2 90.9,458.6 91.6,458.5 92.3,458.2 92.9,457.8 93.6,457.4 94.3,457.3 95.0,456.9 95.6,457.8 96.2,457.3 96.9,457.2 97.5,457.2 98.1,456.6 98.7,457.9 99.4,457.2 100.0,457.4 100.6,457.6 101.2,458.3 101.9,457.3 102.5,457.7 103.1,457.3 103.8,457.2 104.4,456.8 105.0,457.0 105.7,456.4 106.3,456.3 107.0,456.1 107.6,456.5 108.3,455.0 109.0,455.3 109.7,455.3 110.3,454.7 111.0,454.4 111.7,454.4 112.4,455.3 113.1,455.6 113.8,455.7 114.4,455.9 115.1,456.2 115.7,456.5 116.3,456.4 117.0,457.7 117.6,457.2 118.3,455.5 119.0,455.4 119.8,455.2 120.5,455.3 121.2,454.9 121.8,454.4 122.5,454.2 123.2,454.3 123.9,453.8 124.5,453.3 125.2,453.8 125.8,454.0 126.4,453.5 127.1,454.5 127.7,454.9 128.3,454.5 128.9,454.0 129.6,454.1 130.2,453.6 130.8,453.1 131.4,451.1 132.1,449.5 132.7,448.7 133.3,448.5 134.0,447.8 134.6,448.2 135.2,448.5 135.9,449.2 136.5,450.0 137.1,450.2 137.8,450.4 138.4,450.6 139.0,449.3 139.7,448.8 140.3,448.7 141.0,449.2 141.7,449.4 142.4,449.7 143.1,449.7 143.8,449.5 144.6,449.5 145.3,449.3 146.0,449.3 146.7,449.4 147.4,450.4 148.1,451.3 148.8,451.6 149.4,450.9 150.1,451.2 150.7,452.0 151.3,452.0 152.0,452.1 152.6,452.2 153.2,452.8 153.9,452.7 154.5,453.5 155.1,453.6 155.7,454.2 156.4,454.5 157.0,454.6 157.6,454.1 158.2,454.0 158.9,454.1 159.5,454.7 160.1,455.0 160.7,454.7 161.4,454.9 162.0,455.4 162.6,455.4 163.3,455.2 163.9,455.0 164.5,455.4 165.2,455.7 165.8,455.3 166.4,455.5 167.1,455.3 167.7,455.0 168.3,455.5 168.9,455.7 169.6,455.3 170.2,455.2 170.8,455.3 171.4,454.9 172.1,454.8 172.7,454.9 173.3,454.0 173.9,454.1 174.6,454.3 175.2,454.4 175.8,454.0 176.5,454.4 177.1,454.3 177.7,454.8 178.4,455.3 179.0,455.6 179.6,455.5 180.3,455.5 180.9,456.1 181.5,456.0 182.2,456.4 182.8,456.9 183.4,456.3 184.1,456.8 184.7,456.3 185.3,456.8 186.0,455.3 186.6,453.8 187.2,454.0 187.9,454.0 188.5,453.6 189.1,453.3 189.8,452.2 190.4,451.6 191.1,451.5 191.8,451.8 192.5,452.7 193.2,453.1 193.8,453.1 194.5,452.7 195.1,452.4 195.7,452.3 196.4,452.0 197.0,452.5 197.7,451.6 198.3,452.0 199.0,451.1 199.7,451.1 200.3,450.5 201.0,451.1 201.6,451.0 202.2,451.0 202.9,451.2 203.5,450.7 204.1,450.0 204.8,448.8 205.4,449.2 206.1,449.1 206.7,449.1 207.4,449.3 208.0,450.5 208.7,449.9 209.4,450.2 210.0,450.3 210.7,450.8 211.3,450.2 212.0,450.2 212.6,450.4 213.3,450.8 213.9,451.4 214.5,450.7 215.2,450.5 215.8,450.2 216.4,449.3 217.1,448.3 217.7,448.4 218.3,448.3 219.0,448.0 219.6,448.3 220.3,447.4 220.9,447.2 221.6,446.8 222.2,446.3 222.9,446.1 223.6,445.8 224.2,445.5 224.9,445.2 225.5,445.7 226.2,445.1 226.8,445.3 227.4,445.3 228.0,444.8 228.6,444.9 229.2,444.1 229.8,444.4 230.4,443.7 231.0,443.1 231.6,443.0 232.2,443.1 232.8,443.2 233.5,443.3 234.1,442.7 234.8,441.9 235.5,441.7 236.2,441.5 236.8,440.6 237.5,440.7 238.2,440.3 238.9,439.3 239.6,439.1 240.3,437.9 240.9,438.0 241.6,438.7 242.2,438.5 242.8,439.0 243.5,438.9 244.1,439.8 244.7,439.0 245.4,438.8 246.0,437.6 246.6,437.0 247.3,437.1 247.9,437.0 248.6,435.4 249.3,435.4 250.0,435.3 250.7,434.5 251.3,435.0 252.0,434.2 252.6,433.9 253.2,434.2 253.9,434.7 254.5,435.1 255.1,434.2 255.8,432.9 256.4,432.8 257.0,431.7 257.7,431.3 258.3,430.3 259.0,430.6 259.7,430.7 260.4,430.6 261.1,430.3 261.8,429.6 262.6,428.7 263.3,428.1 264.0,427.5 264.6,427.8 265.2,427.5 265.9,428.6 266.5,428.8 267.1,429.5 267.7,430.3 268.3,429.7 269.0,428.7 269.6,429.3 270.2,429.0 270.9,429.0 271.5,428.8 272.1,428.9 272.8,428.2 273.4,428.2 274.0,427.9 274.7,427.9 275.3,426.6 276.0,427.5 276.7,428.1 277.4,427.5 278.1,427.5 278.7,426.9 279.4,426.7 280.0,426.2 280.6,426.4 281.3,425.8 281.9,424.7 282.5,424.3 283.2,424.7 283.8,424.3 284.4,424.7 285.1,425.3 285.7,425.6 286.3,426.4 287.0,426.5 287.6,426.6 288.2,426.5 288.9,426.3 289.5,425.6 290.2,426.0 290.9,426.2 291.6,426.1 292.3,426.9 293.0,426.2 293.6,425.0 294.3,424.8 295.0,424.4 295.7,424.1 296.3,422.7 297.0,420.9 297.6,421.0 298.3,420.9 298.9,421.1 299.5,421.1 300.2,421.7 300.8,421.2 301.4,421.4 302.1,420.6 302.7,419.0 303.4,418.0 304.0,418.2 304.7,416.5 305.4,416.4 306.1,415.3 306.7,414.4 307.4,413.7 308.1,413.5 308.7,412.6 309.4,412.4 310.1,412.3 310.8,412.5 311.4,411.7 312.1,412.4 312.7,413.4 313.4,414.8 314.0,413.8 314.6,413.7 315.3,412.3 315.9,412.4 316.5,412.5 317.2,411.5 317.8,410.3 318.4,410.2 319.1,410.3 319.7,409.6 320.4,410.1 321.0,409.1 321.7,409.3 322.4,410.1 323.1,410.8 323.7,412.5 324.4,412.4 325.0,410.1 325.7,409.5 326.3,408.3 326.9,407.6 327.6,407.2 328.2,406.7 328.8,407.0 329.5,407.3 330.1,405.6 330.7,405.0 331.4,405.7 332.0,404.8 332.6,405.4 333.2,405.3 333.8,405.0 334.4,404.4 335.1,403.3 335.7,401.4 336.3,400.3 337.0,397.7 337.6,395.5 338.3,395.9 339.0,395.6 339.7,394.6 340.4,394.6 341.0,395.5 341.7,397.0 342.3,398.3 343.0,397.9 343.7,397.3 344.4,396.9 345.1,396.5 345.8,398.3 346.5,400.2 347.2,402.0 347.9,403.1 348.6,401.2 349.4,400.1 350.1,398.1 350.8,396.5 351.5,395.2 352.2,394.7 352.9,395.5 353.6,394.6 354.3,394.0 354.9,394.4 355.6,396.0 356.3,397.5 357.0,397.8 357.6,397.9 358.3,398.3 358.9,397.6 359.6,397.6 360.2,397.3 360.8,396.2 361.5,395.7 362.1,395.5 362.8,395.9 363.6,396.2 364.3,397.9 365.0,400.2 365.7,401.3 366.4,402.3 367.1,403.9 367.8,405.0 368.4,404.8 369.1,406.0 369.7,405.6 370.3,405.4 371.0,405.3 371.6,405.0 372.3,405.6 373.0,406.8 373.7,408.5 374.4,409.7 375.0,409.4 375.7,408.2 376.3,407.9 376.9,406.9 377.6,406.5 378.2,406.8 378.8,406.2 379.5,405.3 380.1,404.0 380.7,403.3 381.4,402.6 382.0,401.2 382.7,400.2 383.4,400.1 384.1,398.4 384.8,397.4 385.4,396.8 386.1,398.1 386.7,398.7 387.3,399.3 388.0,399.8 388.6,400.2 389.3,398.6 390.0,395.7 390.7,394.1 391.4,392.7 392.0,390.5 392.7,390.0 393.3,389.3 393.9,387.1 394.6,385.6 395.2,384.2 395.8,384.2 396.5,384.9 397.1,384.4 397.7,384.6 398.4,385.2 399.0,386.1 399.6,387.9 400.2,389.5 400.8,391.7 401.5,391.5 402.2,393.3 403.0,394.3 403.7,394.6 404.4,393.2 405.1,390.8 405.8,388.3 406.5,387.0 407.2,387.3 407.9,388.7 408.7,389.0 409.4,388.9 410.0,388.8 410.6,390.5 411.2,391.1 411.9,391.2 412.5,391.0 413.1,390.8 413.7,393.2 414.4,396.0 415.0,399.3 415.7,400.3 416.4,400.8 417.2,400.5 417.9,400.2 418.6,400.1 419.3,401.0 420.0,402.7 420.7,404.0 421.4,403.5 422.1,401.9 422.8,401.7 423.5,401.2 424.2,402.6 424.9,404.2 425.7,404.0 426.4,405.0 427.1,405.2 427.8,407.2 428.4,407.9 429.1,408.3 429.8,409.7 430.4,407.9 431.1,407.6 431.7,406.0 432.4,404.8 433.0,403.1 433.7,403.2 434.4,401.2 435.1,401.2 435.8,400.2 436.4,400.8 437.1,400.7 437.7,401.4 438.3,402.2 439.0,403.2 439.6,404.0 440.3,404.8 440.9,405.8 441.6,405.9 442.3,405.5 443.0,405.0 443.6,405.8 444.3,405.9 444.9,409.7 445.6,412.8 446.2,415.3 446.9,418.8 447.5,422.9 448.2,419.8 449.0,416.3 449.6,416.1 450.3,417.0 450.9,417.0 451.5,417.1 452.2,417.9 452.8,418.2 453.5,418.5 454.1,418.4 454.8,418.3 455.5,418.6 456.2,419.0 456.8,419.6 457.5,419.5 458.2,418.7 458.9,418.0 459.7,417.0 460.4,416.3 461.0,416.7 461.6,416.6 462.2,416.4 462.9,415.6 463.5,415.6 464.1,415.3 464.8,415.1 465.6,414.6 466.3,414.9 467.0,416.5 467.6,417.0 468.2,417.2 468.8,417.7 469.5,417.3 470.1,417.4 470.8,417.0 471.5,416.6 472.2,416.7 472.8,416.9 473.5,416.8 474.1,415.3 474.8,414.5 475.4,412.9 476.0,412.4 476.7,411.2 477.3,410.2 478.0,410.7 478.6,411.1 479.3,410.3 480.0,410.2 480.7,410.5 481.3,409.8 482.0,408.3 482.7,407.4 483.3,406.6 484.0,406.0 484.7,405.2 485.4,404.5 486.0,403.8 486.7,403.9 487.3,404.2 488.0,404.6 488.6,404.4 489.2,405.1 489.9,405.0 490.5,405.5 491.2,403.8 491.9,403.6 492.6,403.2 493.3,402.6 494.1,405.0 494.8,406.8 495.6,408.3 496.2,406.4 496.8,406.0 497.4,404.9 498.0,403.8 498.6,401.7 499.3,403.0 500.0,403.8 500.6,404.1 501.3,404.5 502.0,402.3 502.7,401.7 503.3,399.8 504.0,399.3 504.7,397.9 505.4,395.5 506.1,393.9 506.8,392.1 507.5,389.4 508.1,390.2 508.8,391.6 509.4,392.3 510.0,392.2 510.7,391.5 511.5,390.3 512.2,389.4 512.8,390.1 513.5,390.7 514.1,391.3 514.7,390.7 515.4,391.7 516.0,392.2 516.7,392.9 517.4,394.0 518.1,396.3 518.8,396.4 519.5,394.1 520.2,393.4 521.0,391.6 521.7,391.3 522.4,391.6 523.1,392.3 523.8,393.9 524.5,395.6 525.2,395.5 525.9,395.4 526.6,394.8 527.3,394.1 528.0,394.0 528.8,395.0 529.5,395.5 530.2,395.6 530.9,394.1 531.6,393.0 532.3,392.1 533.0,390.3 533.7,387.8 534.4,385.6 535.1,385.1 535.8,382.8 536.5,382.3 537.2,379.6 538.0,378.8 538.7,376.2 539.3,375.7 540.0,375.6 540.6,375.8 541.2,376.3 541.9,377.0 542.5,377.5 543.1,376.8 543.7,378.4 544.4,378.3 545.0,378.5 545.6,379.6 546.2,380.0 546.8,380.2 547.5,380.3 548.1,381.5 548.7,380.4 549.4,379.5 550.0,379.4 550.6,378.9 551.3,379.4 551.9,381.3 552.5,380.2 553.2,379.7 553.8,379.5 554.4,377.9 555.1,377.4 555.7,376.2 556.3,374.3 557.0,373.0 557.6,371.9 558.2,370.5 558.9,368.9 559.5,368.6 560.2,367.8 561.0,366.6 561.7,364.8 562.3,365.0 563.0,365.4 563.6,365.5 564.2,366.7 564.8,368.5 565.5,370.3 566.1,371.4 566.8,370.1 567.5,369.2 568.2,368.3 568.9,367.7 569.5,369.0 570.2,368.5 570.8,370.3 571.4,368.7 572.1,367.3 572.7,366.2 573.4,365.7 574.1,365.9 574.8,367.9 575.5,367.7 576.2,368.0 577.0,367.2 577.7,366.8 578.4,365.4 579.0,367.0 579.6,366.8 580.2,366.0 580.9,367.7 581.5,367.6 582.1,367.7 582.7,366.6 583.4,365.0 584.0,362.9 584.6,361.8 585.3,362.2 585.9,361.6 586.6,361.2 587.2,361.7 587.9,360.7 588.6,361.5 589.3,361.2 589.9,360.2 590.6,360.5 591.3,361.0 592.0,360.8 592.8,361.1 593.5,362.0 594.2,364.0 594.9,364.2 595.6,362.9 596.3,365.4 596.9,364.8 597.6,364.1 598.2,364.1 598.8,363.3 599.5,363.8 600.1,362.4 600.7,361.7 601.3,360.2 602.0,360.9 602.6,360.2 603.2,360.6 603.8,361.3 604.5,359.6 605.2,358.7 606.0,358.6 606.7,358.0 607.3,358.5 608.0,359.9 608.6,361.3 609.3,360.0 610.0,359.0 610.7,358.7 611.4,358.0 612.1,358.7 612.8,358.4 613.6,360.5 614.3,360.9 615.0,362.7 615.7,364.3 616.4,365.9 617.1,367.6 617.7,367.8 618.4,369.0 619.0,370.8 619.7,369.0 620.5,367.5 621.2,365.8 621.9,363.7 622.6,364.7 623.3,363.6 624.0,363.4 624.7,363.7 625.3,364.1 626.0,363.5 626.6,362.8 627.4,365.2 628.1,365.5 628.9,366.6 629.5,365.8 630.1,364.6 630.8,361.8 631.4,359.0 632.0,359.9 632.7,360.2 633.3,360.9 634.0,364.2 634.8,367.5 635.5,369.6 636.2,371.4 636.8,371.7 637.5,370.8 638.1,369.5 638.8,367.0 639.5,366.5 640.2,364.6 640.9,362.8 641.5,362.7 642.2,362.4 642.8,362.2 643.4,360.6 644.1,357.5 644.7,356.1 645.4,355.6 646.2,354.7 646.9,355.2 647.6,355.2 648.3,353.5 649.0,353.2 649.7,352.2 650.4,351.0 651.0,351.5 651.7,349.6 652.3,350.0 652.9,350.5 653.6,348.2 654.2,347.6 654.8,347.3 655.5,346.1 656.1,345.4 656.7,344.6 657.4,344.5 658.0,343.8 658.6,341.1 659.3,341.4 659.9,341.4 660.5,339.8 661.2,339.8 661.8,340.9 662.5,339.1 663.2,338.4 664.0,337.5 664.7,337.7 665.3,336.9 666.0,335.0 666.6,335.6 667.2,334.8 667.9,334.9 668.5,336.5 669.3,336.1 670.0,336.0 670.8,337.1 671.4,334.1 672.0,331.7 672.7,328.7 673.3,328.5 674.0,325.4 674.8,322.1 675.5,318.5 676.1,314.9 676.8,309.3 677.5,304.2 678.3,300.1 678.9,296.8 679.6,294.9 680.2,292.9 681.2,301.1 681.9,298.4 682.6,299.0 683.3,301.3 684.0,303.1 684.8,300.6 685.5,299.0 686.1,297.9 686.8,297.0 687.5,296.5 688.1,298.5 688.7,298.5 689.4,298.9 690.0,299.0 690.6,300.6 691.3,298.9 692.0,296.6 692.7,295.9 693.4,295.3 694.0,294.5 694.7,292.9 695.4,288.4 696.1,285.1 696.8,280.1 697.5,279.4 698.1,280.3 698.8,279.5 699.6,283.2 700.4,287.7 701.4,295.9 702.1,290.4 702.8,289.7 703.5,286.7 704.2,289.1 704.8,291.2 705.5,293.4 706.4,292.9 707.3,295.9 708.1,293.9 708.8,291.5 709.6,292.4 710.2,290.1 710.9,290.2 711.6,289.2 712.2,286.7 712.9,286.6 713.5,282.3 714.2,280.1 714.9,282.2 715.6,284.6 716.3,285.7 716.9,289.2 717.5,291.4 718.2,291.9 718.8,292.4 719.5,290.6 720.2,287.3 720.9,285.7 721.6,284.9 722.2,283.0 722.9,279.5 723.6,277.3 724.3,277.1 725.0,275.9 725.8,278.1 726.5,277.5 727.3,275.3 728.1,273.4 728.8,272.2 729.4,271.3 730.0,274.6 730.6,276.5 731.7,277.0" stroke="#E24A33" stroke-width="1.4"/>
</g>
<g clip-path="url(#c2)">
<polygon points="64.2,516.2 64.2,516.4 64.8,559.8 65.3,563.2 65.8,569.5 66.4,575.5 66.9,579.1 67.5,586.6 68.0,585.3 68.6,590.6 69.1,593.3 69.7,599.4 70.2,608.6 70.8,617.8 71.3,626.2 71.9,627.6 72.4,628.0 73.0,621.2 73.5,610.8 74.1,610.4 74.6,606.5 75.2,604.0 75.7,607.7 76.3,606.1 76.8,601.3 77.4,606.0 77.9,605.2 78.5,602.1 79.0,596.9 79.6,592.6 80.1,591.9 80.7,590.2 81.2,595.2 81.8,607.3 82.3,607.7 82.9,609.4 83.4,613.9 84.0,615.7 84.5,607.6 85.1,607.9 85.6,597.8 86.2,592.4 86.7,590.9 87.3,586.0 87.8,582.8 88.4,582.4 88.9,580.8 89.5,576.3 90.0,570.8 90.6,570.0 91.1,564.1 91.7,558.5 92.2,558.4 92.8,551.7 93.3,551.7 93.9,552.2 94.4,549.0 95.0,544.2 95.5,543.3 96.1,538.7 96.6,535.1 97.2,533.9 97.7,541.2 98.3,539.4 98.8,544.7 99.4,545.8 99.9,545.8 100.5,550.3 101.0,555.2 101.6,560.0 102.1,561.0 102.7,562.6 103.2,564.3 103.8,562.2 104.3,558.4 104.9,555.1 105.4,547.5 106.0,552.6 106.5,546.3 107.1,549.2 107.6,546.0 108.2,556.1 108.7,557.7 109.3,563.0 109.8,559.5 110.4,554.3 110.9,562.5 111.5,558.6 112.0,558.3 112.6,561.9 113.1,566.2 113.7,565.2 114.2,567.2 114.8,562.6 115.3,571.7 115.9,570.5 116.4,571.5 117.0,573.9 117.5,574.4 118.1,571.3 118.6,564.7 119.2,562.5 119.7,560.8 120.3,559.4 120.8,552.9 121.4,548.0 121.9,544.1 122.5,542.8 123.0,544.4 123.6,545.2 124.1,546.3 124.7,549.5 125.2,547.5 125.8,544.9 126.3,552.0 126.9,545.8 127.4,542.1 128.0,537.4 128.5,531.4 129.1,534.1 129.6,530.5 130.2,528.4 130.7,529.2 131.3,527.7 131.8,522.8 132.4,518.6 132.9,519.3 133.5,521.0 134.0,519.4 134.6,523.7 135.1,525.7 135.7,527.6 136.2,531.8 136.8,533.6 137.3,540.8 137.9,538.5 138.4,538.0 139.0,540.8 139.5,537.3 140.1,540.8 140.6,539.0 141.2,541.6 141.7,536.7 142.3,538.4 142.8,533.2 143.4,533.1 143.9,532.2 144.5,531.4 145.1,533.5 145.6,531.8 146.2,520.4 146.7,517.0 147.3,520.3 147.8,524.6 148.4,522.4 148.9,528.8 149.5,528.7 150.0,531.6 150.6,533.6 151.1,537.9 151.7,547.2 152.2,546.2 152.8,545.5 153.3,553.6 153.9,549.0 154.4,549.2 155.0,549.8 155.5,552.9 156.1,552.9 156.6,559.4 157.2,559.6 157.7,564.3 158.3,567.0 158.8,564.5 159.4,563.8 159.9,566.6 160.5,561.8 161.0,567.0 161.6,567.7 162.1,567.0 162.7,565.1 163.2,564.7 163.8,561.7 164.3,562.9 164.9,556.6 165.4,561.0 166.0,557.1 166.5,559.0 167.1,556.8 167.6,555.9 168.2,554.4 168.7,559.6 169.3,554.4 169.8,551.6 170.4,553.6 170.9,553.6 171.5,552.1 172.0,548.0 172.6,546.8 173.1,551.0 173.7,546.9 174.2,549.9 174.8,551.2 175.3,549.8 175.9,545.3 176.4,552.2 177.0,549.4 177.5,548.4 178.1,546.2 178.6,543.6 179.2,544.3 179.7,545.7 180.3,543.0 180.8,544.5 181.4,547.5 181.9,546.2 182.5,543.9 183.0,545.1 183.6,543.0 184.1,540.4 184.7,533.0 185.2,524.7 185.8,526.6 186.3,522.7 186.9,519.1 187.4,519.6 188.0,518.0 188.5,517.0 189.1,525.5 189.6,522.1 190.2,529.6 190.7,534.6 191.3,540.1 191.8,539.6 192.4,541.8 192.9,540.1 193.5,543.7 194.0,540.6 194.6,545.4 195.1,550.1 195.7,549.8 196.2,548.0 196.8,551.3 197.3,544.2 197.9,545.8 198.4,543.8 199.0,543.4 199.5,542.4 200.1,546.3 200.6,538.4 201.2,541.7 201.7,542.3 202.3,537.5 202.8,533.8 203.4,530.0 203.9,529.0 204.5,536.1 205.0,526.1 205.6,529.1 206.1,526.3 206.7,532.0 207.2,529.1 207.8,522.9 208.3,522.9 208.9,526.4 209.4,528.3 210.0,526.9 210.5,527.3 211.1,526.0 211.6,527.5 212.2,526.6 212.7,525.5 213.3,522.1 213.8,524.1 214.4,520.3 214.9,518.1 215.5,517.6 216.0,517.7 216.6,519.4 217.1,516.5 217.7,525.7 218.2,528.0 218.8,531.3 219.3,526.7 219.9,527.9 220.4,526.5 221.0,525.1 221.5,529.1 222.1,523.2 222.6,523.8 223.2,517.6 223.7,520.1 224.3,518.8 224.8,517.7 225.4,518.3 225.9,516.2 226.5,516.7 227.0,520.7 227.6,516.2 228.1,523.5 228.7,526.6 229.2,523.2 229.8,520.3 230.3,519.0 230.9,517.9 231.4,518.3 232.0,524.7 232.5,518.7 233.1,520.2 233.6,523.0 234.2,520.0 234.7,520.8 235.3,524.2 235.8,522.1 236.4,527.0 236.9,531.5 237.5,527.3 238.0,524.0 238.6,527.1 239.1,526.9 239.7,523.6 240.2,523.9 240.8,524.4 241.3,525.5 241.9,530.0 242.4,528.4 243.0,527.0 243.5,527.0 244.1,537.8 244.6,536.2 245.2,536.7 245.7,545.3 246.3,541.9 246.8,542.5 247.4,534.4 247.9,528.7 248.5,526.5 249.0,528.0 249.6,526.9 250.1,525.5 250.7,529.3 251.2,526.5 251.8,519.6 252.3,519.7 252.9,518.9 253.4,516.7 254.0,518.3 254.5,518.5 255.1,519.3 255.6,518.1 256.2,517.3 256.7,520.3 257.3,520.4 257.8,519.9 258.4,521.5 258.9,524.3 259.5,526.2 260.0,526.9 260.6,528.0 261.1,533.7 261.7,529.8 262.2,522.8 262.8,526.7 263.3,521.4 263.9,517.3 264.4,517.1 265.0,517.7 265.5,528.8 266.1,527.5 266.6,526.8 267.2,529.8 267.7,532.7 268.3,529.3 268.8,529.2 269.4,530.1 269.9,531.7 270.5,527.3 271.0,529.4 271.6,528.7 272.1,527.3 272.7,522.2 273.2,517.9 273.8,518.4 274.3,518.9 274.9,519.7 275.4,520.3 276.0,526.0 276.5,531.1 277.1,526.6 277.6,529.2 278.2,522.7 278.7,524.5 279.3,526.2 279.8,529.6 280.4,524.7 280.9,528.8 281.5,532.0 282.0,524.1 282.6,525.5 283.1,526.8 283.7,530.0 284.2,530.4 284.8,525.8 285.3,529.8 285.9,521.9 286.4,518.1 287.0,523.7 287.5,522.9 288.1,518.4 288.6,520.4 289.2,519.7 289.7,519.4 290.3,519.2 290.8,517.7 291.4,516.2 291.9,519.8 292.5,521.5 293.0,520.1 293.6,519.1 294.1,520.9 294.7,517.4 295.2,516.7 295.8,518.8 296.3,517.1 296.9,516.5 297.4,517.1 298.0,516.2 298.5,516.8 299.1,516.2 299.6,516.2 300.2,516.2 300.7,516.2 301.3,516.2 301.8,516.6 302.4,516.4 302.9,516.9 303.5,516.9 304.0,516.2 304.6,516.2 305.1,516.2 305.7,516.2 306.2,516.3 306.8,516.9 307.3,517.9 307.9,516.2 308.4,517.7 309.0,518.6 309.5,524.7 310.1,523.0 310.6,523.3 311.2,524.1 311.7,525.6 312.3,520.2 312.8,520.7 313.4,520.3 313.9,519.9 314.5,519.7 315.0,519.3 315.6,520.8 316.1,518.1 316.7,525.0 317.2,523.4 317.8,517.9 318.3,520.5 318.9,525.8 319.4,527.1 320.0,529.6 320.5,526.4 321.1,537.0 321.6,538.2 322.2,534.3 322.7,538.6 323.3,546.9 323.8,548.0 324.4,544.3 324.9,546.9 325.5,550.8 326.0,553.1 326.6,546.3 327.1,542.9 327.7,537.5 328.2,535.4 328.8,530.3 329.3,524.8 329.9,518.1 330.4,520.3 331.0,528.7 331.5,529.7 332.1,533.6 332.6,530.2 333.2,525.2 333.7,519.5 334.3,520.2 334.8,519.4 335.4,519.0 335.9,519.4 336.5,518.4 337.0,517.1 337.6,517.0 338.1,517.9 338.7,520.4 339.2,519.7 339.8,518.0 340.3,523.1 340.9,528.2 341.4,525.5 342.0,526.0 342.5,522.1 343.1,517.3 343.6,521.9 344.2,530.9 344.7,536.8 345.3,541.2 345.8,539.7 346.4,547.4 346.9,548.7 347.5,552.0 348.0,567.3 348.6,573.8 349.1,579.2 349.7,587.0 350.2,584.7 350.8,574.1 351.3,565.6 351.9,561.7 352.4,558.8 353.0,553.4 353.5,544.7 354.1,552.9 354.6,546.0 355.2,543.4 355.7,545.3 356.3,545.9 356.8,550.0 357.4,558.6 357.9,560.6 358.5,556.2 359.0,553.3 359.6,549.1 360.1,549.5 360.7,542.4 361.2,538.3 361.8,534.6 362.3,542.1 362.9,545.8 363.4,551.6 364.0,560.9 364.5,563.7 365.1,571.0 365.6,574.2 366.2,585.1 366.7,589.2 367.3,584.7 367.8,589.7 368.4,590.4 368.9,590.1 369.5,591.3 370.0,587.9 370.6,587.4 371.1,587.7 371.7,588.7 372.2,588.9 372.8,598.2 373.3,603.2 373.9,605.7 374.4,605.6 375.0,614.2 375.5,609.0 376.1,606.4 376.6,606.8 377.2,610.2 377.7,605.7 378.3,598.4 378.8,600.3 379.4,598.9 379.9,594.7 380.5,596.8 381.0,590.0 381.6,587.3 382.1,580.7 382.7,580.4 383.2,573.8 383.8,574.1 384.3,570.6 384.9,567.8 385.4,567.9 386.0,564.3 386.5,567.3 387.1,571.9 387.6,573.6 388.2,580.3 388.7,582.2 389.3,573.4 389.8,572.8 390.4,565.8 390.9,562.4 391.5,559.7 392.0,549.0 392.6,544.6 393.1,545.3 393.7,544.4 394.2,539.4 394.8,545.4 395.3,548.8 395.9,552.1 396.4,555.5 397.0,558.5 397.5,556.3 398.1,560.1 398.6,563.6 399.2,567.8 399.7,571.4 400.3,581.4 400.8,577.2 401.4,583.4 401.9,592.2 402.5,594.7 403.0,596.7 403.6,604.3 404.1,598.3 404.7,594.8 405.2,593.0 405.8,587.3 406.3,582.9 406.9,580.5 407.4,579.7 408.0,574.7 408.5,576.7 409.1,575.2 409.6,574.0 410.2,571.4 410.7,579.4 411.3,580.0 411.8,580.9 412.4,580.8 412.9,592.0 413.5,597.6 414.0,605.2 414.6,612.6 415.1,621.8 415.7,626.2 416.2,617.6 416.8,619.2 417.3,618.0 417.9,624.0 418.4,624.3 419.0,631.6 419.5,641.6 420.1,645.9 420.6,642.5 421.2,642.3 421.7,640.7 422.3,634.8 422.8,634.3 423.4,624.8 423.9,626.6 424.5,630.2 425.0,634.8 425.6,637.4 426.1,641.8 426.7,643.7 427.2,652.7 427.8,649.1 428.3,654.9 428.9,655.9 429.4,664.9 430.0,657.0 430.5,654.6 431.1,650.8 431.6,648.9 432.2,641.1 432.7,631.2 433.3,626.2 433.8,628.8 434.4,628.0 434.9,622.9 435.5,620.1 436.0,620.7 436.6,625.2 437.1,627.7 437.7,633.0 438.2,637.9 438.8,645.2 439.3,653.8 439.9,658.7 440.4,659.1 441.0,665.4 441.5,666.0 442.1,672.2 442.6,675.5 443.2,678.4 443.7,685.2 444.3,686.3 444.8,688.4 445.4,695.6 445.9,698.9 446.5,708.4 447.0,715.2 447.6,712.5 448.1,705.4 448.7,695.3 449.2,690.1 449.8,686.9 450.3,681.8 450.9,685.3 451.4,686.1 452.0,692.6 452.5,687.2 453.1,686.2 453.6,683.5 454.2,685.3 454.7,692.3 455.3,690.7 455.8,691.3 456.4,687.5 456.9,692.5 457.5,699.2 458.0,701.8 458.6,703.3 459.1,694.7 459.7,690.6 460.2,683.3 460.8,684.0 461.3,679.5 461.9,681.6 462.4,681.8 463.0,683.2 463.5,691.1 464.1,688.1 464.6,689.7 465.2,698.8 465.7,699.1 466.3,700.6 466.8,701.7 467.4,702.3 467.9,709.1 468.5,707.0 469.0,711.1 469.6,709.5 470.1,708.0 470.7,709.6 471.2,711.2 471.8,715.9 472.3,706.9 472.9,704.9 473.4,696.8 474.0,698.1 474.5,694.8 475.1,693.1 475.6,688.8 476.2,683.3 476.7,680.4 477.3,678.4 477.8,679.5 478.4,675.5 478.9,672.8 479.5,667.4 480.0,670.6 480.6,668.0 481.1,664.0 481.7,667.6 482.2,667.2 482.8,662.6 483.3,658.7 483.9,651.4 484.4,643.7 485.0,647.3 485.5,642.8 486.1,646.0 486.6,643.2 487.2,642.6 487.7,639.0 488.3,639.3 488.8,639.2 489.4,636.1 489.9,635.6 490.5,632.6 491.0,626.3 491.6,617.3 492.1,618.7 492.7,614.7 493.2,610.6 493.8,605.4 494.3,603.5 494.9,615.7 495.4,623.7 496.0,627.8 496.5,627.3 497.1,612.0 497.6,610.9 498.2,601.7 498.7,596.1 499.3,597.6 499.8,600.0 500.4,598.4 500.9,597.5 501.5,596.7 502.0,594.4 502.6,592.9 503.1,591.8 503.7,583.5 504.2,573.0 504.8,565.6 505.3,563.0 505.9,561.1 506.4,550.2 507.0,549.9 507.5,546.4 508.1,548.0 508.6,540.0 509.2,543.2 509.7,544.3 510.3,543.2 510.8,541.7 511.4,541.3 511.9,543.2 512.5,542.6 513.0,547.5 513.6,549.2 514.1,555.9 514.7,560.8 515.2,563.3 515.8,571.8 516.3,569.4 516.9,575.2 517.4,588.5 518.0,592.1 518.5,596.9 519.1,585.0 519.6,590.1 520.2,583.6 520.7,581.2 521.3,584.4 521.8,582.2 522.4,577.9 522.9,588.5 523.5,588.2 524.0,592.3 524.6,588.8 525.1,586.4 525.7,583.8 526.2,582.5 526.8,581.7 527.3,589.4 527.9,586.0 528.4,589.9 529.0,590.5 529.5,600.1 530.1,597.4 530.6,591.6 531.2,585.1 531.7,584.0 532.3,574.5 532.8,572.0 533.4,569.9 533.9,568.5 534.5,562.1 535.0,551.1 535.6,548.8 536.1,543.5 536.7,539.8 537.2,538.5 537.8,534.9 538.3,531.7 538.9,530.6 539.4,532.4 540.0,530.6 540.5,532.1 541.1,531.9 541.6,538.4 542.2,538.7 542.7,536.3 543.3,541.0 543.8,536.1 544.4,537.7 544.9,543.6 545.5,543.2 546.0,543.1 546.6,541.7 547.1,541.6 547.7,542.3 548.2,544.9 548.8,543.4 549.3,544.4 549.9,541.7 550.4,546.8 551.0,553.5 551.5,556.6 552.1,562.9 552.6,560.0 553.2,558.0 553.7,557.4 554.3,549.7 554.8,550.1 555.4,539.3 555.9,535.5 556.5,528.0 557.0,528.1 557.6,524.4 558.1,527.0 558.7,519.0 559.2,522.1 559.8,521.7 560.3,520.3 560.9,519.0 561.4,520.0 562.0,518.3 562.5,520.5 563.1,520.4 563.6,522.3 564.2,525.8 564.7,528.3 565.3,530.7 565.8,537.9 566.4,535.2 566.9,526.9 567.5,525.5 568.0,524.6 568.6,531.6 569.1,527.8 569.7,523.5 570.2,526.7 570.8,521.6 571.3,531.6 571.9,531.1 572.4,529.4 573.0,532.4 573.5,528.2 574.1,525.2 574.6,528.8 575.2,531.8 575.7,525.2 576.3,522.5 576.8,520.1 577.4,522.3 577.9,522.3 578.5,524.7 579.0,524.1 579.6,526.4 580.1,530.5 580.7,526.2 581.2,531.6 581.8,536.2 582.3,529.2 582.9,526.4 583.4,525.6 584.0,523.8 584.5,519.9 585.1,523.1 585.6,522.5 586.2,523.0 586.7,525.1 587.3,522.9 587.8,524.3 588.4,524.3 588.9,533.8 589.5,529.6 590.0,532.4 590.6,534.2 591.1,529.7 591.7,528.5 592.2,529.3 592.8,535.2 593.3,531.1 593.9,535.4 594.4,539.0 595.0,541.9 595.5,541.0 596.1,545.1 596.6,543.2 597.2,537.2 597.7,533.7 598.3,538.8 598.8,531.6 599.4,524.7 599.9,526.8 600.5,523.0 601.0,523.8 601.6,524.9 602.1,520.6 602.7,517.5 603.2,524.5 603.8,519.0 604.3,517.4 604.8,518.8 605.4,519.6 605.9,518.6 606.5,517.1 607.0,520.2 607.6,520.1 608.1,522.3 608.7,528.2 609.2,528.3 609.8,525.3 610.3,522.9 610.9,518.7 611.4,522.6 612.0,521.9 612.5,522.7 613.1,529.1 613.6,535.8 614.2,537.0 614.7,539.4 615.3,545.3 615.8,554.0 616.4,557.0 616.9,561.1 617.5,566.4 618.0,571.5 618.6,578.9 619.1,582.0 619.7,587.8 620.2,585.5 620.8,574.3 621.3,566.5 621.9,561.1 622.4,551.8 623.0,551.2 623.5,549.6 624.1,547.9 624.6,544.1 625.2,543.1 625.7,545.9 626.3,544.6 626.8,550.4 627.4,549.8 627.9,553.7 628.5,547.6 629.0,556.2 629.6,551.9 630.1,541.9 630.7,542.3 631.2,537.2 631.8,531.6 632.3,545.9 632.9,556.4 633.4,564.2 634.0,571.5 634.5,580.0 635.1,578.9 635.6,586.7 636.2,597.7 636.7,598.7 637.3,597.7 637.8,596.6 638.4,595.4 638.9,589.5 639.5,586.2 640.0,574.8 640.6,578.7 641.1,574.5 641.7,562.3 642.2,563.0 642.8,560.9 643.3,556.9 643.9,556.5 644.4,554.9 645.0,552.2 645.5,543.5 646.1,537.8 646.6,538.2 647.2,541.6 647.7,534.0 648.3,533.9 648.8,532.6 649.4,532.1 649.9,526.3 650.5,528.8 651.0,525.9 651.6,526.9 652.1,524.1 652.7,521.4 653.2,520.7 653.8,520.3 654.3,519.9 654.9,518.3 655.4,519.3 656.0,521.2 656.5,523.1 657.1,527.2 657.6,528.3 658.2,524.9 658.7,531.9 659.3,531.8 659.8,533.0 660.4,533.3 660.9,527.3 661.5,521.4 662.0,525.1 662.6,527.4 663.1,529.7 663.7,523.1 664.2,522.3 664.8,520.0 665.3,520.7 665.9,517.8 666.4,518.0 667.0,517.1 667.5,521.2 668.1,527.0 668.6,521.6 669.2,520.9 669.7,524.5 670.3,519.4 670.8,516.2 671.4,516.2 671.9,516.4 672.5,516.4 673.0,516.2 673.6,516.2 674.1,516.7 674.7,516.2 675.2,516.8 675.8,516.3 676.3,516.6 676.9,516.2 677.4,516.2 678.0,517.2 678.5,516.6 679.1,519.1 679.6,528.6 680.2,533.6 680.7,541.8 681.3,549.0 681.8,547.2 682.4,550.1 682.9,541.9 683.5,551.1 684.0,551.6 684.6,552.8 685.1,548.0 685.7,547.1 686.2,541.5 686.8,540.1 687.3,539.2 687.9,538.0 688.4,537.8 689.0,536.3 689.5,537.7 690.1,538.4 690.6,542.6 691.2,540.8 691.7,537.1 692.3,531.6 692.8,531.2 693.4,531.1 693.9,530.3 694.5,524.2 695.0,523.8 695.6,517.9 696.1,517.4 696.7,516.2 697.2,516.4 697.8,516.6 698.3,516.9 698.9,526.3 699.4,534.2 700.0,534.6 700.5,547.9 701.1,555.9 701.6,562.2 702.2,561.0 702.7,561.7 703.3,557.8 703.8,551.2 704.4,548.8 704.9,552.0 705.5,558.2 706.0,568.9 706.6,560.6 707.1,563.6 707.7,562.7 708.2,560.4 708.8,559.6 709.3,559.0 709.9,554.2 710.4,555.3 711.0,551.2 711.5,549.1 712.1,546.7 712.6,538.1 713.2,540.4 713.7,532.8 714.3,531.6 714.8,528.7 715.4,529.1 715.9,534.9 716.5,535.6 717.0,543.2 717.6,545.0 718.1,545.3 718.7,549.2 719.2,548.4 719.8,544.7 720.3,536.7 720.9,537.8 721.4,535.2 722.0,536.6 722.5,535.9 723.1,530.4 723.6,523.2 724.2,521.0 724.7,518.7 725.3,517.7 725.8,519.2 726.4,521.8 726.9,520.5 727.5,524.5 728.0,524.3 728.6,516.2 729.1,517.1 729.7,516.2 730.2,519.1 730.8,527.4 731.3,529.3 731.9,537.9 732.4,527.6 732.4,516.2" fill="#FF7F50" fill-opacity="0.7" stroke="none"/>
<polygon points="64.2,516.2 64.2,516.4 64.8,559.8 65.3,563.2 65.8,569.5 66.4,575.5 66.9,579.1 67.5,586.6 68.0,585.3 68.6,590.6 69.1,593.3 69.7,599.4 70.2,608.6 70.8,617.8 71.3,626.2 71.9,627.6 72.4,628.0 73.0,621.2 73.5,610.8 74.1,610.4 74.6,606.5 75.2,604.0 75.7,607.7 76.3,606.1 76.8,601.3 77.4,606.0 77.9,605.2 78.5,602.1 79.0,596.9 79.6,592.6 80.1,591.9 80.7,590.2 81.2,595.2 81.8,607.3 82.3,607.7 82.9,609.4 83.4,613.9 84.0,615.7 84.5,607.6 85.1,607.9 85.6,597.8 86.2,592.4 86.7,590.9 87.3,586.0 87.8,582.8 88.4,582.4 88.9,580.8 89.5,576.3 90.0,570.8 90.6,570.0 91.1,564.1 91.7,558.5 92.2,558.4 92.8,551.7 93.3,551.7 93.9,552.2 94.4,549.0 95.0,544.2 95.5,543.3 96.1,538.7 96.6,535.1 97.2,533.9 97.7,541.2 98.3,539.4 98.8,544.7 99.4,545.8 99.9,545.8 100.5,550.3 101.0,555.2 101.6,560.0 102.1,561.0 102.7,562.6 103.2,564.3 103.8,562.2 104.3,558.4 104.9,555.1 105.4,547.5 106.0,552.6 106.5,546.3 107.1,549.2 107.6,546.0 108.2,556.1 108.7,557.7 109.3,563.0 109.8,559.5 110.4,554.3 110.9,562.5 111.5,558.6 112.0,558.3 112.6,561.9 113.1,566.2 113.7,565.2 114.2,567.2 114.8,562.6 115.3,571.7 115.9,570.5 116.4,571.5 117.0,573.9 117.5,574.4 118.1,571.3 118.6,564.7 119.2,562.5 119.7,560.8 120.3,559.4 120.8,552.9 121.4,548.0 121.9,544.1 122.5,542.8 123.0,544.4 123.6,545.2 124.1,546.3 124.7,549.5 125.2,547.5 125.8,544.9 126.3,552.0 126.9,545.8 127.4,542.1 128.0,537.4 128.5,531.4 129.1,534.1 129.6,530.5 130.2,528.4 130.7,529.2 131.3,527.7 131.8,522.8 132.4,518.6 132.9,519.3 133.5,521.0 134.0,519.4 134.6,523.7 135.1,525.7 135.7,527.6 136.2,531.8 136.8,533.6 137.3,540.8 137.9,538.5 138.4,538.0 139.0,540.8 139.5,537.3 140.1,540.8 140.6,539.0 141.2,541.6 141.7,536.7 142.3,538.4 142.8,533.2 143.4,533.1 143.9,532.2 144.5,531.4 145.1,533.5 145.6,531.8 146.2,520.4 146.7,517.0 147.3,520.3 147.8,524.6 148.4,522.4 148.9,528.8 149.5,528.7 150.0,531.6 150.6,533.6 151.1,537.9 151.7,547.2 152.2,546.2 152.8,545.5 153.3,553.6 153.9,549.0 154.4,549.2 155.0,549.8 155.5,552.9 156.1,552.9 156.6,559.4 157.2,559.6 157.7,564.3 158.3,567.0 158.8,564.5 159.4,563.8 159.9,566.6 160.5,561.8 161.0,567.0 161.6,567.7 162.1,567.0 162.7,565.1 163.2,564.7 163.8,561.7 164.3,562.9 164.9,556.6 165.4,561.0 166.0,557.1 166.5,559.0 167.1,556.8 167.6,555.9 168.2,554.4 168.7,559.6 169.3,554.4 169.8,551.6 170.4,553.6 170.9,553.6 171.5,552.1 172.0,548.0 172.6,546.8 173.1,551.0 173.7,546.9 174.2,549.9 174.8,551.2 175.3,549.8 175.9,545.3 176.4,552.2 177.0,549.4 177.5,548.4 178.1,546.2 178.6,543.6 179.2,544.3 179.7,545.7 180.3,543.0 180.8,544.5 181.4,547.5 181.9,546.2 182.5,543.9 183.0,545.1 183.6,543.0 184.1,540.4 184.7,533.0 185.2,524.7 185.8,526.6 186.3,522.7 186.9,519.1 187.4,519.6 188.0,518.0 188.5,517.0 189.1,525.5 189.6,522.1 190.2,529.6 190.7,534.6 191.3,540.1 191.8,539.6 192.4,541.8 192.9,540.1 193.5,543.7 194.0,540.6 194.6,545.4 195.1,550.1 195.7,549.8 196.2,548.0 196.8,551.3 197.3,544.2 197.9,545.8 198.4,543.8 199.0,543.4 199.5,542.4 200.1,546.3 200.6,538.4 201.2,541.7 201.7,542.3 202.3,537.5 202.8,533.8 203.4,530.0 203.9,529.0 204.5,536.1 205.0,526.1 205.6,529.1 206.1,526.3 206.7,532.0 207.2,529.1 207.8,522.9 208.3,522.9 208.9,526.4 209.4,528.3 210.0,526.9 210.5,527.3 211.1,526.0 211.6,527.5 212.2,526.6 212.7,525.5 213.3,522.1 213.8,524.1 214.4,520.3 214.9,518.1 215.5,517.6 216.0,517.7 216.6,519.4 217.1,516.5 217.7,525.7 218.2,528.0 218.8,531.3 219.3,526.7 219.9,527.9 220.4,526.5 221.0,525.1 221.5,529.1 222.1,523.2 222.6,523.8 223.2,517.6 223.7,520.1 224.3,518.8 224.8,517.7 225.4,518.3 225.9,516.2 226.5,516.7 227.0,520.7 227.6,516.2 228.1,523.5 228.7,526.6 229.2,523.2 229.8,520.3 230.3,519.0 230.9,517.9 231.4,518.3 232.0,524.7 232.5,518.7 233.1,520.2 233.6,523.0 234.2,520.0 234.7,520.8 235.3,524.2 235.8,522.1 236.4,527.0 236.9,531.5 237.5,527.3 238.0,524.0 238.6,527.1 239.1,526.9 239.7,523.6 240.2,523.9 240.8,524.4 241.3,525.5 241.9,530.0 242.4,528.4 243.0,527.0 243.5,527.0 244.1,537.8 244.6,536.2 245.2,536.7 245.7,545.3 246.3,541.9 246.8,542.5 247.4,534.4 247.9,528.7 248.5,526.5 249.0,528.0 249.6,526.9 250.1,525.5 250.7,529.3 251.2,526.5 251.8,519.6 252.3,519.7 252.9,518.9 253.4,516.7 254.0,518.3 254.5,518.5 255.1,519.3 255.6,518.1 256.2,517.3 256.7,520.3 257.3,520.4 257.8,519.9 258.4,521.5 258.9,524.3 259.5,526.2 260.0,526.9 260.6,528.0 261.1,533.7 261.7,529.8 262.2,522.8 262.8,526.7 263.3,521.4 263.9,517.3 264.4,517.1 265.0,517.7 265.5,528.8 266.1,527.5 266.6,526.8 267.2,529.8 267.7,532.7 268.3,529.3 268.8,529.2 269.4,530.1 269.9,531.7 270.5,527.3 271.0,529.4 271.6,528.7 272.1,527.3 272.7,522.2 273.2,517.9 273.8,518.4 274.3,518.9 274.9,519.7 275.4,520.3 276.0,526.0 276.5,531.1 277.1,526.6 277.6,529.2 278.2,522.7 278.7,524.5 279.3,526.2 279.8,529.6 280.4,524.7 280.9,528.8 281.5,532.0 282.0,524.1 282.6,525.5 283.1,526.8 283.7,530.0 284.2,530.4 284.8,525.8 285.3,529.8 285.9,521.9 286.4,518.1 287.0,523.7 287.5,522.9 288.1,518.4 288.6,520.4 289.2,519.7 289.7,519.4 290.3,519.2 290.8,517.7 291.4,516.2 291.9,519.8 292.5,521.5 293.0,520.1 293.6,519.1 294.1,520.9 294.7,517.4 295.2,516.7 295.8,518.8 296.3,517.1 296.9,516.5 297.4,517.1 298.0,516.2 298.5,516.8 299.1,516.2 299.6,516.2 300.2,516.2 300.7,516.2 301.3,516.2 301.8,516.6 302.4,516.4 302.9,516.9 303.5,516.9 304.0,516.2 304.6,516.2 305.1,516.2 305.7,516.2 306.2,516.3 306.8,516.9 307.3,517.9 307.9,516.2 308.4,517.7 309.0,518.6 309.5,524.7 310.1,523.0 310.6,523.3 311.2,524.1 311.7,525.6 312.3,520.2 312.8,520.7 313.4,520.3 313.9,519.9 314.5,519.7 315.0,519.3 315.6,520.8 316.1,518.1 316.7,525.0 317.2,523.4 317.8,517.9 318.3,520.5 318.9,525.8 319.4,527.1 320.0,529.6 320.5,526.4 321.1,537.0 321.6,538.2 322.2,534.3 322.7,538.6 323.3,546.9 323.8,548.0 324.4,544.3 324.9,546.9 325.5,550.8 326.0,553.1 326.6,546.3 327.1,542.9 327.7,537.5 328.2,535.4 328.8,530.3 329.3,524.8 329.9,518.1 330.4,520.3 331.0,528.7 331.5,529.7 332.1,533.6 332.6,530.2 333.2,525.2 333.7,519.5 334.3,520.2 334.8,519.4 335.4,519.0 335.9,519.4 336.5,518.4 337.0,517.1 337.6,517.0 338.1,517.9 338.7,520.4 339.2,519.7 339.8,518.0 340.3,523.1 340.9,528.2 341.4,525.5 342.0,526.0 342.5,522.1 343.1,517.3 343.6,521.9 344.2,530.9 344.7,536.8 345.3,541.2 345.8,539.7 346.4,547.4 346.9,548.7 347.5,552.0 348.0,567.3 348.6,573.8 349.1,579.2 349.7,587.0 350.2,584.7 350.8,574.1 351.3,565.6 351.9,561.7 352.4,558.8 353.0,553.4 353.5,544.7 354.1,552.9 354.6,546.0 355.2,543.4 355.7,545.3 356.3,545.9 356.8,550.0 357.4,558.6 357.9,560.6 358.5,556.2 359.0,553.3 359.6,549.1 360.1,549.5 360.7,542.4 361.2,538.3 361.8,534.6 362.3,542.1 362.9,545.8 363.4,551.6 364.0,560.9 364.5,563.7 365.1,571.0 365.6,574.2 366.2,585.1 366.7,589.2 367.3,584.7 367.8,589.7 368.4,590.4 368.9,590.1 369.5,591.3 370.0,587.9 370.6,587.4 371.1,587.7 371.7,588.7 372.2,588.9 372.8,598.2 373.3,603.2 373.9,605.7 374.4,605.6 375.0,614.2 375.5,609.0 376.1,606.4 376.6,606.8 377.2,610.2 377.7,605.7 378.3,598.4 378.8,600.3 379.4,598.9 379.9,594.7 380.5,596.8 381.0,590.0 381.6,587.3 382.1,580.7 382.7,580.4 383.2,573.8 383.8,574.1 384.3,570.6 384.9,567.8 385.4,567.9 386.0,564.3 386.5,567.3 387.1,571.9 387.6,573.6 388.2,580.3 388.7,582.2 389.3,573.4 389.8,572.8 390.4,565.8 390.9,562.4 391.5,559.7 392.0,549.0 392.6,544.6 393.1,545.3 393.7,544.4 394.2,539.4 394.8,545.4 395.3,548.8 395.9,552.1 396.4,555.5 397.0,558.5 397.5,556.3 398.1,560.1 398.6,563.6 399.2,567.8 399.7,571.4 400.3,581.4 400.8,577.2 401.4,583.4 401.9,592.2 402.5,594.7 403.0,596.7 403.6,604.3 404.1,598.3 404.7,594.8 405.2,593.0 405.8,587.3 406.3,582.9 406.9,580.5 407.4,579.7 408.0,574.7 408.5,576.7 409.1,575.2 409.6,574.0 410.2,571.4 410.7,579.4 411.3,580.0 411.8,580.9 412.4,580.8 412.9,592.0 413.5,597.6 414.0,605.2 414.6,612.6 415.1,621.8 415.7,626.2 416.2,617.6 416.8,619.2 417.3,618.0 417.9,624.0 418.4,624.3 419.0,631.6 419.5,641.6 420.1,645.9 420.6,642.5 421.2,642.3 421.7,640.7 422.3,634.8 422.8,634.3 423.4,624.8 423.9,626.6 424.5,630.2 425.0,634.8 425.6,637.4 426.1,641.8 426.7,643.7 427.2,652.7 427.8,649.1 428.3,654.9 428.9,655.9 429.4,664.9 430.0,657.0 430.5,654.6 431.1,650.8 431.6,648.9 432.2,641.1 432.7,631.2 433.3,626.2 433.8,628.8 434.4,628.0 434.9,622.9 435.5,620.1 436.0,620.7 436.6,625.2 437.1,627.7 437.7,633.0 438.2,637.9 438.8,645.2 439.3,653.8 439.9,658.7 440.4,659.1 441.0,665.4 441.5,666.0 442.1,672.2 442.6,675.5 443.2,678.4 443.7,685.2 444.3,686.3 444.8,688.4 445.4,695.6 445.9,698.9 446.5,708.4 447.0,715.2 447.6,712.5 448.1,705.4 448.7,695.3 449.2,690.1 449.8,686.9 450.3,681.8 450.9,685.3 451.4,686.1 452.0,692.6 452.5,687.2 453.1,686.2 453.6,683.5 454.2,685.3 454.7,692.3 455.3,690.7 455.8,691.3 456.4,687.5 456.9,692.5 457.5,699.2 458.0,701.8 458.6,703.3 459.1,694.7 459.7,690.6 460.2,683.3 460.8,684.0 461.3,679.5 461.9,681.6 462.4,681.8 463.0,683.2 463.5,691.1 464.1,688.1 464.6,689.7 465.2,698.8 465.7,699.1 466.3,700.6 466.8,701.7 467.4,702.3 467.9,709.1 468.5,707.0 469.0,711.1 469.6,709.5 470.1,708.0 470.7,709.6 471.2,711.2 471.8,715.9 472.3,706.9 472.9,704.9 473.4,696.8 474.0,698.1 474.5,694.8 475.1,693.1 475.6,688.8 476.2,683.3 476.7,680.4 477.3,678.4 477.8,679.5 478.4,675.5 478.9,672.8 479.5,667.4 480.0,670.6 480.6,668.0 481.1,664.0 481.7,667.6 482.2,667.2 482.8,662.6 483.3,658.7 483.9,651.4 484.4,643.7 485.0,647.3 485.5,642.8 486.1,646.0 486.6,643.2 487.2,642.6 487.7,639.0 488.3,639.3 488.8,639.2 489.4,636.1 489.9,635.6 490.5,632.6 491.0,626.3 491.6,617.3 492.1,618.7 492.7,614.7 493.2,610.6 493.8,605.4 494.3,603.5 494.9,615.7 495.4,623.7 496.0,627.8 496.5,627.3 497.1,612.0 497.6,610.9 498.2,601.7 498.7,596.1 499.3,597.6 499.8,600.0 500.4,598.4 500.9,597.5 501.5,596.7 502.0,594.4 502.6,592.9 503.1,591.8 503.7,583.5 504.2,573.0 504.8,565.6 505.3,563.0 505.9,561.1 506.4,550.2 507.0,549.9 507.5,546.4 508.1,548.0 508.6,540.0 509.2,543.2 509.7,544.3 510.3,543.2 510.8,541.7 511.4,541.3 511.9,543.2 512.5,542.6 513.0,547.5 513.6,549.2 514.1,555.9 514.7,560.8 515.2,563.3 515.8,571.8 516.3,569.4 516.9,575.2 517.4,588.5 518.0,592.1 518.5,596.9 519.1,585.0 519.6,590.1 520.2,583.6 520.7,581.2 521.3,584.4 521.8,582.2 522.4,577.9 522.9,588.5 523.5,588.2 524.0,592.3 524.6,588.8 525.1,586.4 525.7,583.8 526.2,582.5 526.8,581.7 527.3,589.4 527.9,586.0 528.4,589.9 529.0,590.5 529.5,600.1 530.1,597.4 530.6,591.6 531.2,585.1 531.7,584.0 532.3,574.5 532.8,572.0 533.4,569.9 533.9,568.5 534.5,562.1 535.0,551.1 535.6,548.8 536.1,543.5 536.7,539.8 537.2,538.5 537.8,534.9 538.3,531.7 538.9,530.6 539.4,532.4 540.0,530.6 540.5,532.1 541.1,531.9 541.6,538.4 542.2,538.7 542.7,536.3 543.3,541.0 543.8,536.1 544.4,537.7 544.9,543.6 545.5,543.2 546.0,543.1 546.6,541.7 547.1,541.6 547.7,542.3 548.2,544.9 548.8,543.4 549.3,544.4 549.9,541.7 550.4,546.8 551.0,553.5 551.5,556.6 552.1,562.9 552.6,560.0 553.2,558.0 553.7,557.4 554.3,549.7 554.8,550.1 555.4,539.3 555.9,535.5 556.5,528.0 557.0,528.1 557.6,524.4 558.1,527.0 558.7,519.0 559.2,522.1 559.8,521.7 560.3,520.3 560.9,519.0 561.4,520.0 562.0,518.3 562.5,520.5 563.1,520.4 563.6,522.3 564.2,525.8 564.7,528.3 565.3,530.7 565.8,537.9 566.4,535.2 566.9,526.9 567.5,525.5 568.0,524.6 568.6,531.6 569.1,527.8 569.7,523.5 570.2,526.7 570.8,521.6 571.3,531.6 571.9,531.1 572.4,529.4 573.0,532.4 573.5,528.2 574.1,525.2 574.6,528.8 575.2,531.8 575.7,525.2 576.3,522.5 576.8,520.1 577.4,522.3 577.9,522.3 578.5,524.7 579.0,524.1 579.6,526.4 580.1,530.5 580.7,526.2 581.2,531.6 581.8,536.2 582.3,529.2 582.9,526.4 583.4,525.6 584.0,523.8 584.5,519.9 585.1,523.1 585.6,522.5 586.2,523.0 586.7,525.1 587.3,522.9 587.8,524.3 588.4,524.3 588.9,533.8 589.5,529.6 590.0,532.4 590.6,534.2 591.1,529.7 591.7,528.5 592.2,529.3 592.8,535.2 593.3,531.1 593.9,535.4 594.4,539.0 595.0,541.9 595.5,541.0 596.1,545.1 596.6,543.2 597.2,537.2 597.7,533.7 598.3,538.8 598.8,531.6 599.4,524.7 599.9,526.8 600.5,523.0 601.0,523.8 601.6,524.9 602.1,520.6 602.7,517.5 603.2,524.5 603.8,519.0 604.3,517.4 604.8,518.8 605.4,519.6 605.9,518.6 606.5,517.1 607.0,520.2 607.6,520.1 608.1,522.3 608.7,528.2 609.2,528.3 609.8,525.3 610.3,522.9 610.9,518.7 611.4,522.6 612.0,521.9 612.5,522.7 613.1,529.1 613.6,535.8 614.2,537.0 614.7,539.4 615.3,545.3 615.8,554.0 616.4,557.0 616.9,561.1 617.5,566.4 618.0,571.5 618.6,578.9 619.1,582.0 619.7,587.8 620.2,585.5 620.8,574.3 621.3,566.5 621.9,561.1 622.4,551.8 623.0,551.2 623.5,549.6 624.1,547.9 624.6,544.1 625.2,543.1 625.7,545.9 626.3,544.6 626.8,550.4 627.4,549.8 627.9,553.7 628.5,547.6 629.0,556.2 629.6,551.9 630.1,541.9 630.7,542.3 631.2,537.2 631.8,531.6 632.3,545.9 632.9,556.4 633.4,564.2 634.0,571.5 634.5,580.0 635.1,578.9 635.6,586.7 636.2,597.7 636.7,598.7 637.3,597.7 637.8,596.6 638.4,595.4 638.9,589.5 639.5,586.2 640.0,574.8 640.6,578.7 641.1,574.5 641.7,562.3 642.2,563.0 642.8,560.9 643.3,556.9 643.9,556.5 644.4,554.9 645.0,552.2 645.5,543.5 646.1,537.8 646.6,538.2 647.2,541.6 647.7,534.0 648.3,533.9 648.8,532.6 649.4,532.1 649.9,526.3 650.5,528.8 651.0,525.9 651.6,526.9 652.1,524.1 652.7,521.4 653.2,520.7 653.8,520.3 654.3,519.9 654.9,518.3 655.4,519.3 656.0,521.2 656.5,523.1 657.1,527.2 657.6,528.3 658.2,524.9 658.7,531.9 659.3,531.8 659.8,533.0 660.4,533.3 660.9,527.3 661.5,521.4 662.0,525.1 662.6,527.4 663.1,529.7 663.7,523.1 664.2,522.3 664.8,520.0 665.3,520.7 665.9,517.8 666.4,518.0 667.0,517.1 667.5,521.2 668.1,527.0 668.6,521.6 669.2,520.9 669.7,524.5 670.3,519.4 670.8,516.2 671.4,516.2 671.9,516.4 672.5,516.4 673.0,516.2 673.6,516.2 674.1,516.7 674.7,516.2 675.2,516.8 675.8,516.3 676.3,516.6 676.9,516.2 677.4,516.2 678.0,517.2 678.5,516.6 679.1,519.1 679.6,528.6 680.2,533.6 680.7,541.8 681.3,549.0 681.8,547.2 682.4,550.1 682.9,541.9 683.5,551.1 684.0,551.6 684.6,552.8 685.1,548.0 685.7,547.1 686.2,541.5 686.8,540.1 687.3,539.2 687.9,538.0 688.4,537.8 689.0,536.3 689.5,537.7 690.1,538.4 690.6,542.6 691.2,540.8 691.7,537.1 692.3,531.6 692.8,531.2 693.4,531.1 693.9,530.3 694.5,524.2 695.0,523.8 695.6,517.9 696.1,517.4 696.7,516.2 697.2,516.4 697.8,516.6 698.3,516.9 698.9,526.3 699.4,534.2 700.0,534.6 700.5,547.9 701.1,555.9 701.6,562.2 702.2,561.0 702.7,561.7 703.3,557.8 703.8,551.2 704.4,548.8 704.9,552.0 705.5,558.2 706.0,568.9 706.6,560.6 707.1,563.6 707.7,562.7 708.2,560.4 708.8,559.6 709.3,559.0 709.9,554.2 710.4,555.3 711.0,551.2 711.5,549.1 712.1,546.7 712.6,538.1 713.2,540.4 713.7,532.8 714.3,531.6 714.8,528.7 715.4,529.1 715.9,534.9 716.5,535.6 717.0,543.2 717.6,545.0 718.1,545.3 718.7,549.2 719.2,548.4 719.8,544.7 720.3,536.7 720.9,537.8 721.4,535.2 722.0,536.6 722.5,535.9 723.1,530.4 723.6,523.2 724.2,521.0 724.7,518.7 725.3,517.7 725.8,519.2 726.4,521.8 726.9,520.5 727.5,524.5 728.0,524.3 728.6,516.2 729.1,517.1 729.7,516.2 730.2,519.1 730.8,527.4 731.3,529.3 731.9,537.9 732.4,527.6 732.4,516.2" fill="none" stroke="#FF7F50" stroke-opacity="0.65" stroke-width="1.5" stroke-linejoin="miter" stroke-miterlimit="6"/>
</g>
<text transform="translate(127.8,735.5) scale(1.7,1) rotate(-30)" text-anchor="end" font-size="7" style="fill:#5a5a5a">2016-07</text>
<text transform="translate(196.2,735.5) scale(1.7,1) rotate(-30)" text-anchor="end" font-size="7" style="fill:#5a5a5a">2017-01</text>
<text transform="translate(263.7,735.5) scale(1.7,1) rotate(-30)" text-anchor="end" font-size="7" style="fill:#5a5a5a">2017-07</text>
<text transform="translate(332.2,735.5) scale(1.7,1) rotate(-30)" text-anchor="end" font-size="7" style="fill:#5a5a5a">2018-01</text>
<text transform="translate(401.2,735.5) scale(1.7,1) rotate(-30)" text-anchor="end" font-size="7" style="fill:#5a5a5a">2018-07</text>
<text transform="translate(469.2,735.5) scale(1.7,1) rotate(-30)" text-anchor="end" font-size="7" style="fill:#5a5a5a">2019-01</text>
<text transform="translate(536.6,735.5) scale(1.7,1) rotate(-30)" text-anchor="end" font-size="7" style="fill:#5a5a5a">2019-07</text>
<text transform="translate(605.6,735.5) scale(1.7,1) rotate(-30)" text-anchor="end" font-size="7" style="fill:#5a5a5a">2020-01</text>
<text transform="translate(673.2,735.5) scale(1.7,1) rotate(-30)" text-anchor="end" font-size="7" style="fill:#5a5a5a">2020-07</text>
</g>
</svg></body></html>
